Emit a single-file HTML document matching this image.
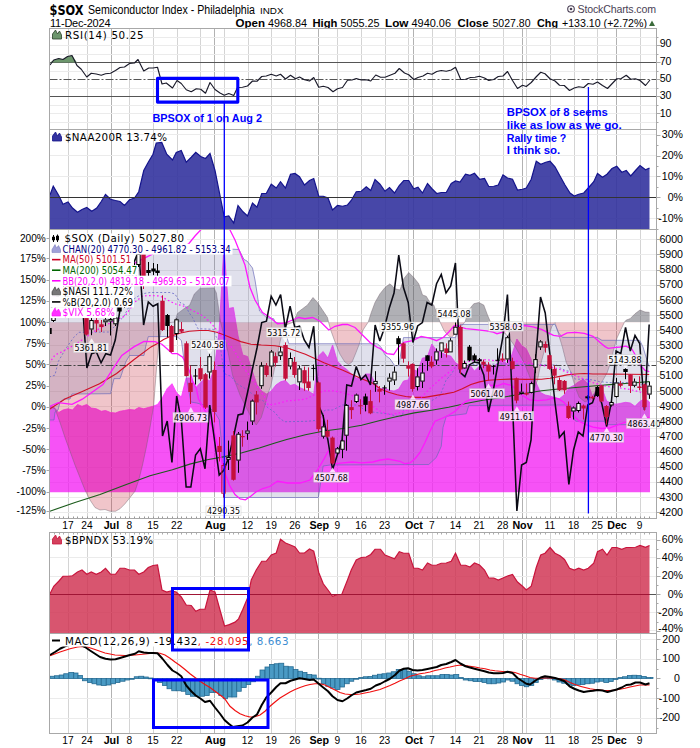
<!DOCTYPE html>
<html><head><meta charset="utf-8"><title>$SOX Semiconductor Index - Philadelphia</title>
<style>
html,body{margin:0;padding:0;background:#fff;}
svg{display:block}
text{font-family:"Liberation Sans",sans-serif}
.ar{font-family:"Liberation Sans",sans-serif}
.ax{font-family:"Liberation Sans",sans-serif}
.vd{font-family:"DejaVu Sans","Liberation Sans",sans-serif}
</style></head><body>
<svg width="700" height="748" viewBox="0 0 700 748" shape-rendering="auto">
<rect width="700" height="748" fill="#fff"/>
<text x="49.5" y="14.8" font-size="14.6" font-weight="bold" class="vd" textLength="34" lengthAdjust="spacingAndGlyphs">$SOX</text>
<text x="88" y="13.5" font-size="12" class="ar" textLength="167" lengthAdjust="spacingAndGlyphs">Semiconductor Index - Philadelphia</text>
<text x="260" y="13.5" font-size="9.5" class="ar" textLength="23.5" lengthAdjust="spacingAndGlyphs">INDX</text>
<text x="50" y="26.5" font-size="11" class="ar" textLength="60.5">11-Dec-2024</text>
<text x="577.5" y="13" font-size="10.6" class="ar" fill="#4a3f55" textLength="78.5" lengthAdjust="spacing">StockCharts.com</text>
<circle cx="571" cy="9" r="3.3" fill="none" stroke="#4a3f55" stroke-width="1.1"/><circle cx="571" cy="9" r="1.3" fill="#4a3f55"/>
<text x="235.5" y="26.5" font-size="11" class="ar" textLength="29.5" lengthAdjust="spacingAndGlyphs" font-weight="bold">Open</text>
<text x="268" y="26.5" font-size="11" class="ar" textLength="39" lengthAdjust="spacingAndGlyphs" >4968.84</text>
<text x="312.5" y="26.5" font-size="11" class="ar" textLength="25" lengthAdjust="spacingAndGlyphs" font-weight="bold">High</text>
<text x="340.5" y="26.5" font-size="11" class="ar" textLength="39" lengthAdjust="spacingAndGlyphs" >5055.25</text>
<text x="385" y="26.5" font-size="11" class="ar" textLength="23.5" lengthAdjust="spacingAndGlyphs" font-weight="bold">Low</text>
<text x="411.5" y="26.5" font-size="11" class="ar" textLength="39.5" lengthAdjust="spacingAndGlyphs" >4940.06</text>
<text x="457.5" y="26.5" font-size="11" class="ar" textLength="31" lengthAdjust="spacingAndGlyphs" font-weight="bold">Close</text>
<text x="492.5" y="26.5" font-size="11" class="ar" textLength="38" lengthAdjust="spacingAndGlyphs" >5027.80</text>
<text x="537" y="26.5" font-size="11" class="ar" textLength="21" lengthAdjust="spacingAndGlyphs" font-weight="bold">Chg</text>
<text x="562" y="26.5" font-size="11" class="ar" textLength="85" lengthAdjust="spacingAndGlyphs" >+133.10 (+2.72%)</text>
<path d="M649 26 L652 20.5 L655 26 Z" fill="#3b6b3b"/>
<line x1="68.5" y1="28.5" x2="68.5" y2="229.5" stroke="#d4d4d4"/>
<line x1="87.5" y1="28.5" x2="87.5" y2="229.5" stroke="#d4d4d4"/>
<line x1="129.5" y1="28.5" x2="129.5" y2="229.5" stroke="#d4d4d4"/>
<line x1="153.5" y1="28.5" x2="153.5" y2="229.5" stroke="#d4d4d4"/>
<line x1="177.5" y1="28.5" x2="177.5" y2="229.5" stroke="#d4d4d4"/>
<line x1="200.5" y1="28.5" x2="200.5" y2="229.5" stroke="#d4d4d4"/>
<line x1="224.5" y1="28.5" x2="224.5" y2="229.5" stroke="#d4d4d4"/>
<line x1="248.5" y1="28.5" x2="248.5" y2="229.5" stroke="#d4d4d4"/>
<line x1="271.5" y1="28.5" x2="271.5" y2="229.5" stroke="#d4d4d4"/>
<line x1="295.5" y1="28.5" x2="295.5" y2="229.5" stroke="#d4d4d4"/>
<line x1="337.5" y1="28.5" x2="337.5" y2="229.5" stroke="#d4d4d4"/>
<line x1="361.5" y1="28.5" x2="361.5" y2="229.5" stroke="#d4d4d4"/>
<line x1="385.5" y1="28.5" x2="385.5" y2="229.5" stroke="#d4d4d4"/>
<line x1="408.5" y1="28.5" x2="408.5" y2="229.5" stroke="#d4d4d4"/>
<line x1="432.5" y1="28.5" x2="432.5" y2="229.5" stroke="#d4d4d4"/>
<line x1="455.5" y1="28.5" x2="455.5" y2="229.5" stroke="#d4d4d4"/>
<line x1="479.5" y1="28.5" x2="479.5" y2="229.5" stroke="#d4d4d4"/>
<line x1="503.5" y1="28.5" x2="503.5" y2="229.5" stroke="#d4d4d4"/>
<line x1="526.5" y1="28.5" x2="526.5" y2="229.5" stroke="#d4d4d4"/>
<line x1="550.5" y1="28.5" x2="550.5" y2="229.5" stroke="#d4d4d4"/>
<line x1="574.5" y1="28.5" x2="574.5" y2="229.5" stroke="#d4d4d4"/>
<line x1="597.5" y1="28.5" x2="597.5" y2="229.5" stroke="#d4d4d4"/>
<line x1="640.5" y1="28.5" x2="640.5" y2="229.5" stroke="#d4d4d4"/>
<line x1="111.5" y1="28.5" x2="111.5" y2="229.5" stroke="#b2b2b2"/>
<line x1="214.5" y1="28.5" x2="214.5" y2="229.5" stroke="#b2b2b2"/>
<line x1="318.5" y1="28.5" x2="318.5" y2="229.5" stroke="#b2b2b2"/>
<line x1="413.5" y1="28.5" x2="413.5" y2="229.5" stroke="#b2b2b2"/>
<line x1="522.5" y1="28.5" x2="522.5" y2="229.5" stroke="#b2b2b2"/>
<line x1="616.5" y1="28.5" x2="616.5" y2="229.5" stroke="#b2b2b2"/>
<line x1="49.5" y1="37.5" x2="656.5" y2="37.5" stroke="#ebebeb"/>
<line x1="49.5" y1="45.5" x2="656.5" y2="45.5" stroke="#ebebeb"/>
<line x1="49.5" y1="54.5" x2="656.5" y2="54.5" stroke="#ebebeb"/>
<line x1="49.5" y1="71.5" x2="656.5" y2="71.5" stroke="#ebebeb"/>
<line x1="49.5" y1="88.5" x2="656.5" y2="88.5" stroke="#ebebeb"/>
<line x1="49.5" y1="105.5" x2="656.5" y2="105.5" stroke="#ebebeb"/>
<line x1="49.5" y1="113.5" x2="656.5" y2="113.5" stroke="#ebebeb"/>
<line x1="49.5" y1="122.5" x2="656.5" y2="122.5" stroke="#ebebeb"/>
<line x1="49.5" y1="134.5" x2="656.5" y2="134.5" stroke="#ebebeb"/>
<line x1="49.5" y1="155.5" x2="656.5" y2="155.5" stroke="#ebebeb"/>
<line x1="49.5" y1="176.5" x2="656.5" y2="176.5" stroke="#ebebeb"/>
<line x1="49.5" y1="218.5" x2="656.5" y2="218.5" stroke="#ebebeb"/>
<line x1="49.5" y1="129.5" x2="656.5" y2="129.5" stroke="#a8a8a8"/>
<line x1="49.5" y1="62.5" x2="656.5" y2="62.5" stroke="#555"/>
<line x1="49.5" y1="96.5" x2="656.5" y2="96.5" stroke="#555"/>
<line x1="49.5" y1="79.5" x2="656.5" y2="79.5" stroke="#555" stroke-dasharray="8,2,2,2"/>
<polygon points="50.00,62.50 50.00,62.50 53.75,60.00 58.75,58.50 63.00,59.50 67.50,56.50 72.00,55.50 77.00,62.50 77.00,62.50" fill="#6c966c"/>
<polyline points="50.00,65.00 53.75,60.00 58.75,58.50 63.00,59.50 67.50,56.50 72.00,55.50 77.00,65.50 81.25,69.25 86.75,77.00 91.25,73.25 96.25,74.00 101.25,75.25 105.50,73.75 110.50,73.25 115.50,70.50 120.00,67.50 124.50,67.00 129.50,63.50 134.50,63.00 138.00,59.50 143.75,71.00 148.75,68.00 153.00,68.00 157.50,67.25 162.00,84.00 166.25,83.00 172.50,88.00 177.00,80.50 181.25,83.50 186.25,89.75 191.25,91.75 196.25,88.75 200.75,89.25 205.50,93.25 210.00,82.50 215.00,89.50 220.00,93.00 224.25,95.25 228.75,93.50 233.75,95.50 237.50,87.50 242.50,87.25 247.50,86.00 252.50,81.00 257.00,81.25 261.75,76.50 266.25,76.00 271.25,74.25 276.25,76.00 280.50,74.25 285.50,79.00 290.50,75.25 295.50,78.75 299.50,77.00 304.50,79.75 309.50,81.00 313.75,77.50 318.75,87.25 323.25,86.25 328.00,87.50 333.00,91.75 337.50,88.75 342.50,87.50 347.50,80.25 352.00,80.00 356.25,78.50 361.25,80.00 366.25,79.75 370.75,81.00 375.75,75.00 380.50,77.25 385.00,77.25 390.00,75.25 395.00,73.25 399.25,68.50 404.50,73.00 408.75,74.75 413.75,79.50 418.00,77.50 423.00,76.00 427.50,73.25 432.00,74.25 436.75,71.50 441.25,70.50 446.25,71.25 451.25,70.00 455.50,67.25 460.75,79.50 465.50,79.25 470.50,77.50 475.00,77.25 479.50,76.25 484.50,78.00 488.75,80.50 493.75,79.50 498.25,76.50 503.00,76.00 507.50,71.50 512.50,80.50 517.50,88.50 522.50,85.25 526.25,86.50 531.25,82.50 536.25,76.75 540.75,72.25 545.00,73.75 550.00,78.75 555.00,81.00 559.50,85.25 564.25,85.50 569.50,90.50 574.25,88.00 578.75,86.75 583.75,87.50 588.25,83.50 593.00,84.25 597.50,82.00 602.50,85.50 607.50,88.50 612.00,83.75 616.75,78.75 621.25,78.50 626.25,75.25 630.75,79.25 635.50,78.75 640.00,80.50 645.50,85.50 650.00,80.00" fill="none" stroke="#1a1a2a" stroke-width="1.15" stroke-linejoin="round"/>
<polygon points="50.00,229.50 50.00,195.00 53.25,186.25 58.75,195.50 63.00,204.25 68.00,202.00 72.50,208.00 77.50,212.25 82.00,209.50 86.75,207.50 91.75,211.25 96.75,208.00 101.25,201.50 105.50,194.50 110.50,199.25 115.50,200.50 120.00,201.50 124.50,205.50 129.50,199.75 134.50,198.00 138.75,191.75 143.75,170.50 148.25,162.25 153.00,154.25 156.25,143.00 161.75,142.50 166.75,154.25 172.50,160.00 176.25,152.50 181.25,150.50 186.25,162.25 191.25,157.25 195.75,152.25 200.75,156.50 205.50,158.50 210.00,153.50 215.00,170.50 220.00,195.50 224.25,216.75 228.75,216.00 233.75,223.00 238.00,205.50 243.00,211.75 247.50,216.00 252.50,203.00 257.00,207.25 261.75,193.50 266.25,193.50 271.25,184.25 276.25,188.00 280.50,181.75 285.50,188.00 290.50,174.25 295.00,173.50 299.50,176.75 304.50,185.00 309.50,180.50 313.75,178.50 318.75,196.25 323.25,196.25 328.00,198.00 332.50,210.00 337.50,205.50 342.50,206.25 347.50,205.00 351.25,200.50 356.25,191.75 361.25,191.25 366.25,186.75 370.75,190.50 375.00,179.50 380.00,184.25 385.00,191.25 389.50,187.50 394.50,193.00 399.25,185.50 403.75,180.50 408.75,180.50 413.75,188.75 418.00,187.25 422.50,193.00 427.50,183.50 432.00,188.75 436.75,193.50 441.25,192.50 446.25,192.50 451.25,183.50 455.50,181.00 460.00,182.00 465.50,174.25 470.00,175.25 474.50,173.25 479.50,179.25 484.50,178.50 488.75,186.50 493.75,186.25 498.25,185.00 503.00,175.00 507.50,178.00 512.50,179.25 517.50,190.00 522.50,189.25 526.25,188.00 531.25,179.25 536.25,161.25 540.75,164.25 545.75,162.25 550.00,161.25 555.00,166.75 560.00,176.00 565.00,185.00 570.00,193.00 574.25,196.00 578.75,194.25 583.75,193.00 588.25,188.00 593.75,181.75 597.50,173.50 602.50,177.25 607.00,174.25 612.00,168.50 616.75,166.25 621.75,172.25 626.25,170.50 630.75,176.00 635.50,170.50 640.00,165.50 645.50,169.75 649.50,168.00 649.50,229.50" fill="#33339f" fill-opacity="0.9"/>
<polyline points="50.00,195.00 53.25,186.25 58.75,195.50 63.00,204.25 68.00,202.00 72.50,208.00 77.50,212.25 82.00,209.50 86.75,207.50 91.75,211.25 96.75,208.00 101.25,201.50 105.50,194.50 110.50,199.25 115.50,200.50 120.00,201.50 124.50,205.50 129.50,199.75 134.50,198.00 138.75,191.75 143.75,170.50 148.25,162.25 153.00,154.25 156.25,143.00 161.75,142.50 166.75,154.25 172.50,160.00 176.25,152.50 181.25,150.50 186.25,162.25 191.25,157.25 195.75,152.25 200.75,156.50 205.50,158.50 210.00,153.50 215.00,170.50 220.00,195.50 224.25,216.75 228.75,216.00 233.75,223.00 238.00,205.50 243.00,211.75 247.50,216.00 252.50,203.00 257.00,207.25 261.75,193.50 266.25,193.50 271.25,184.25 276.25,188.00 280.50,181.75 285.50,188.00 290.50,174.25 295.00,173.50 299.50,176.75 304.50,185.00 309.50,180.50 313.75,178.50 318.75,196.25 323.25,196.25 328.00,198.00 332.50,210.00 337.50,205.50 342.50,206.25 347.50,205.00 351.25,200.50 356.25,191.75 361.25,191.25 366.25,186.75 370.75,190.50 375.00,179.50 380.00,184.25 385.00,191.25 389.50,187.50 394.50,193.00 399.25,185.50 403.75,180.50 408.75,180.50 413.75,188.75 418.00,187.25 422.50,193.00 427.50,183.50 432.00,188.75 436.75,193.50 441.25,192.50 446.25,192.50 451.25,183.50 455.50,181.00 460.00,182.00 465.50,174.25 470.00,175.25 474.50,173.25 479.50,179.25 484.50,178.50 488.75,186.50 493.75,186.25 498.25,185.00 503.00,175.00 507.50,178.00 512.50,179.25 517.50,190.00 522.50,189.25 526.25,188.00 531.25,179.25 536.25,161.25 540.75,164.25 545.75,162.25 550.00,161.25 555.00,166.75 560.00,176.00 565.00,185.00 570.00,193.00 574.25,196.00 578.75,194.25 583.75,193.00 588.25,188.00 593.75,181.75 597.50,173.50 602.50,177.25 607.00,174.25 612.00,168.50 616.75,166.25 621.75,172.25 626.25,170.50 630.75,176.00 635.50,170.50 640.00,165.50 645.50,169.75 649.50,168.00" fill="none" stroke="#14148c" stroke-width="1.2"/>
<line x1="49.5" y1="197.5" x2="656.5" y2="197.5" stroke="#333"/>
<line x1="68.5" y1="229.5" x2="68.5" y2="518.5" stroke="#d4d4d4"/>
<line x1="87.5" y1="229.5" x2="87.5" y2="518.5" stroke="#d4d4d4"/>
<line x1="129.5" y1="229.5" x2="129.5" y2="518.5" stroke="#d4d4d4"/>
<line x1="153.5" y1="229.5" x2="153.5" y2="518.5" stroke="#d4d4d4"/>
<line x1="177.5" y1="229.5" x2="177.5" y2="518.5" stroke="#d4d4d4"/>
<line x1="200.5" y1="229.5" x2="200.5" y2="518.5" stroke="#d4d4d4"/>
<line x1="224.5" y1="229.5" x2="224.5" y2="518.5" stroke="#d4d4d4"/>
<line x1="248.5" y1="229.5" x2="248.5" y2="518.5" stroke="#d4d4d4"/>
<line x1="271.5" y1="229.5" x2="271.5" y2="518.5" stroke="#d4d4d4"/>
<line x1="295.5" y1="229.5" x2="295.5" y2="518.5" stroke="#d4d4d4"/>
<line x1="337.5" y1="229.5" x2="337.5" y2="518.5" stroke="#d4d4d4"/>
<line x1="361.5" y1="229.5" x2="361.5" y2="518.5" stroke="#d4d4d4"/>
<line x1="385.5" y1="229.5" x2="385.5" y2="518.5" stroke="#d4d4d4"/>
<line x1="408.5" y1="229.5" x2="408.5" y2="518.5" stroke="#d4d4d4"/>
<line x1="432.5" y1="229.5" x2="432.5" y2="518.5" stroke="#d4d4d4"/>
<line x1="455.5" y1="229.5" x2="455.5" y2="518.5" stroke="#d4d4d4"/>
<line x1="479.5" y1="229.5" x2="479.5" y2="518.5" stroke="#d4d4d4"/>
<line x1="503.5" y1="229.5" x2="503.5" y2="518.5" stroke="#d4d4d4"/>
<line x1="526.5" y1="229.5" x2="526.5" y2="518.5" stroke="#d4d4d4"/>
<line x1="550.5" y1="229.5" x2="550.5" y2="518.5" stroke="#d4d4d4"/>
<line x1="574.5" y1="229.5" x2="574.5" y2="518.5" stroke="#d4d4d4"/>
<line x1="597.5" y1="229.5" x2="597.5" y2="518.5" stroke="#d4d4d4"/>
<line x1="640.5" y1="229.5" x2="640.5" y2="518.5" stroke="#d4d4d4"/>
<line x1="111.5" y1="229.5" x2="111.5" y2="518.5" stroke="#b2b2b2"/>
<line x1="214.5" y1="229.5" x2="214.5" y2="518.5" stroke="#b2b2b2"/>
<line x1="318.5" y1="229.5" x2="318.5" y2="518.5" stroke="#b2b2b2"/>
<line x1="413.5" y1="229.5" x2="413.5" y2="518.5" stroke="#b2b2b2"/>
<line x1="522.5" y1="229.5" x2="522.5" y2="518.5" stroke="#b2b2b2"/>
<line x1="616.5" y1="229.5" x2="616.5" y2="518.5" stroke="#b2b2b2"/>
<line x1="49.5" y1="512.5" x2="656.5" y2="512.5" stroke="#ebebeb"/>
<line x1="49.5" y1="497.5" x2="656.5" y2="497.5" stroke="#ebebeb"/>
<line x1="49.5" y1="482.5" x2="656.5" y2="482.5" stroke="#ebebeb"/>
<line x1="49.5" y1="467.5" x2="656.5" y2="467.5" stroke="#ebebeb"/>
<line x1="49.5" y1="452.5" x2="656.5" y2="452.5" stroke="#ebebeb"/>
<line x1="49.5" y1="436.5" x2="656.5" y2="436.5" stroke="#ebebeb"/>
<line x1="49.5" y1="421.5" x2="656.5" y2="421.5" stroke="#ebebeb"/>
<line x1="49.5" y1="406.5" x2="656.5" y2="406.5" stroke="#ebebeb"/>
<line x1="49.5" y1="391.5" x2="656.5" y2="391.5" stroke="#ebebeb"/>
<line x1="49.5" y1="376.5" x2="656.5" y2="376.5" stroke="#ebebeb"/>
<line x1="49.5" y1="361.5" x2="656.5" y2="361.5" stroke="#ebebeb"/>
<line x1="49.5" y1="345.5" x2="656.5" y2="345.5" stroke="#ebebeb"/>
<line x1="49.5" y1="330.5" x2="656.5" y2="330.5" stroke="#ebebeb"/>
<line x1="49.5" y1="315.5" x2="656.5" y2="315.5" stroke="#ebebeb"/>
<line x1="49.5" y1="300.5" x2="656.5" y2="300.5" stroke="#ebebeb"/>
<line x1="49.5" y1="285.5" x2="656.5" y2="285.5" stroke="#ebebeb"/>
<line x1="49.5" y1="270.5" x2="656.5" y2="270.5" stroke="#ebebeb"/>
<line x1="49.5" y1="254.5" x2="656.5" y2="254.5" stroke="#ebebeb"/>
<line x1="49.5" y1="239.5" x2="656.5" y2="239.5" stroke="#ebebeb"/>
<defs><clipPath id="cm"><rect x="49.5" y="229.5" width="607.0" height="289.0"/></clipPath><clipPath id="cAbove"><rect x="49.5" y="229.5" width="607.0" height="92.69999999999999"/></clipPath><clipPath id="cBelow"><rect x="49.5" y="322.2" width="607.0" height="196.3"/></clipPath></defs>
<g clip-path="url(#cm)">
<polygon points="49.10,492.30 49.10,406.50 53.75,407.00 58.75,412.50 63.00,410.00 68.00,408.75 72.50,410.00 77.50,404.50 82.00,406.25 86.75,404.50 91.25,408.00 96.25,408.75 101.25,411.25 105.50,410.50 110.50,412.50 115.50,413.00 120.00,411.25 124.50,410.50 129.50,409.50 134.50,410.00 138.75,407.50 143.75,408.75 148.25,407.50 153.00,406.25 157.50,404.50 162.50,397.50 167.20,388.50 172.00,383.70 176.70,393.00 181.40,397.00 186.10,378.00 190.85,378.00 195.60,388.00 200.30,382.80 205.00,378.50 209.75,381.00 214.50,367.80 219.20,330.00 223.90,246.50 228.65,308.50 233.40,307.50 238.10,336.00 242.80,355.00 247.60,356.50 252.30,371.00 257.00,384.50 261.70,391.00 266.50,394.00 271.20,391.00 275.90,385.00 280.60,381.80 285.35,380.50 290.10,385.50 294.80,384.30 299.50,387.50 304.25,389.50 309.00,391.50 313.70,394.30 318.40,356.00 323.15,351.50 327.90,358.00 332.60,345.00 337.30,361.00 342.05,366.00 346.80,369.50 351.50,374.00 356.20,378.00 360.95,378.50 365.70,374.00 370.40,374.00 375.10,383.00 379.85,389.00 384.60,388.00 389.30,390.30 394.00,391.00 398.75,389.00 403.50,381.00 408.20,380.00 412.90,369.50 417.65,371.30 422.40,358.00 427.10,357.50 431.80,344.00 436.55,350.50 441.30,352.50 446.00,355.00 450.70,356.00 455.45,362.50 460.20,366.00 464.90,366.50 469.60,364.50 474.35,371.00 479.10,366.50 483.80,362.50 488.50,366.30 493.25,366.50 498.00,363.00 502.70,360.50 507.40,364.00 512.15,354.00 516.90,339.00 521.60,345.50 526.30,348.80 531.05,359.00 535.80,382.00 540.50,392.50 545.20,395.00 549.95,396.00 554.70,397.50 559.40,398.70 564.10,395.00 568.85,388.00 573.60,385.50 578.30,382.00 583.00,379.30 587.75,383.50 592.50,396.00 597.20,388.60 601.90,388.00 606.65,401.00 611.40,403.30 616.10,404.20 620.80,403.30 625.55,402.30 630.30,403.00 635.00,406.30 639.70,401.50 644.45,398.80 649.20,401.70 650.00,401.70 650.00,492.30" fill="#f200f2" fill-opacity="0.68"/>
<polyline points="49.10,406.50 53.75,407.00 58.75,412.50 63.00,410.00 68.00,408.75 72.50,410.00 77.50,404.50 82.00,406.25 86.75,404.50 91.25,408.00 96.25,408.75 101.25,411.25 105.50,410.50 110.50,412.50 115.50,413.00 120.00,411.25 124.50,410.50 129.50,409.50 134.50,410.00 138.75,407.50 143.75,408.75 148.25,407.50 153.00,406.25 157.50,404.50 162.50,397.50 167.20,388.50 172.00,383.70 176.70,393.00 181.40,397.00 186.10,378.00 190.85,378.00 195.60,388.00 200.30,382.80 205.00,378.50 209.75,381.00 214.50,367.80 219.20,330.00 223.90,246.50 228.65,308.50 233.40,307.50 238.10,336.00 242.80,355.00 247.60,356.50 252.30,371.00 257.00,384.50 261.70,391.00 266.50,394.00 271.20,391.00 275.90,385.00 280.60,381.80 285.35,380.50 290.10,385.50 294.80,384.30 299.50,387.50 304.25,389.50 309.00,391.50 313.70,394.30 318.40,356.00 323.15,351.50 327.90,358.00 332.60,345.00 337.30,361.00 342.05,366.00 346.80,369.50 351.50,374.00 356.20,378.00 360.95,378.50 365.70,374.00 370.40,374.00 375.10,383.00 379.85,389.00 384.60,388.00 389.30,390.30 394.00,391.00 398.75,389.00 403.50,381.00 408.20,380.00 412.90,369.50 417.65,371.30 422.40,358.00 427.10,357.50 431.80,344.00 436.55,350.50 441.30,352.50 446.00,355.00 450.70,356.00 455.45,362.50 460.20,366.00 464.90,366.50 469.60,364.50 474.35,371.00 479.10,366.50 483.80,362.50 488.50,366.30 493.25,366.50 498.00,363.00 502.70,360.50 507.40,364.00 512.15,354.00 516.90,339.00 521.60,345.50 526.30,348.80 531.05,359.00 535.80,382.00 540.50,392.50 545.20,395.00 549.95,396.00 554.70,397.50 559.40,398.70 564.10,395.00 568.85,388.00 573.60,385.50 578.30,382.00 583.00,379.30 587.75,383.50 592.50,396.00 597.20,388.60 601.90,388.00 606.65,401.00 611.40,403.30 616.10,404.20 620.80,403.30 625.55,402.30 630.30,403.00 635.00,406.30 639.70,401.50 644.45,398.80 649.20,401.70" fill="none" stroke="#ff30ff" stroke-width="1" stroke-opacity="0.8"/>
<polygon points="49.10,322.20 49.10,406.50 55.00,408.75 60.00,422.50 65.00,437.50 70.00,451.25 75.00,465.00 80.00,477.50 85.00,490.00 90.00,500.00 95.00,507.50 100.00,510.00 105.00,509.50 110.00,511.25 115.50,511.25 120.00,508.75 125.00,503.75 130.00,497.50 135.00,491.25 138.75,480.00 142.50,465.00 146.25,447.50 150.00,427.50 152.50,412.50 153.75,405.00 155.00,387.50 157.00,362.50 158.75,342.50 161.00,331.00 164.00,325.00 168.00,322.80 174.60,322.00 177.40,313.70 185.00,308.00 189.60,305.30 194.30,294.00 200.00,288.40 214.00,287.90 216.40,293.00 218.60,308.00 220.50,322.00 224.00,336.00 228.00,352.00 232.50,375.00 240.00,395.00 246.25,407.50 251.25,417.50 256.25,425.00 261.25,417.50 265.00,405.00 268.00,393.60 270.80,386.00 273.60,373.00 277.40,354.30 280.20,341.20 283.00,330.00 287.00,324.50 293.75,322.00 297.50,312.50 302.50,308.75 307.50,305.00 313.00,297.50 317.50,302.50 322.50,310.00 327.50,317.50 328.50,322.00 330.70,330.00 335.40,343.00 340.00,354.30 344.70,361.80 348.50,364.60 352.20,361.80 356.00,352.50 359.70,343.00 363.00,330.00 368.25,322.00 371.25,312.50 375.00,302.50 380.00,293.75 385.00,287.50 390.00,283.75 395.00,288.75 400.00,290.00 403.75,278.75 408.75,272.50 413.75,277.50 418.75,283.75 422.50,295.00 426.25,296.25 430.00,302.50 433.75,305.00 437.50,315.00 440.00,322.00 443.75,330.00 447.50,335.00 451.25,337.50 456.25,332.50 461.25,326.25 465.00,322.00 468.75,310.00 473.75,303.75 478.75,302.50 483.75,305.00 487.50,315.00 490.50,322.00 497.00,327.00 507.20,335.40 515.70,347.40 524.30,362.90 531.00,380.00 534.50,388.00 537.50,380.00 540.50,365.00 544.00,352.00 548.00,338.00 552.00,326.00 555.00,322.60 558.75,335.00 562.50,347.50 566.25,362.50 570.60,371.50 575.80,388.60 579.20,397.20 585.00,402.00 591.00,399.00 598.00,388.00 603.00,380.00 607.00,373.00 610.50,363.00 613.50,350.00 617.00,338.00 620.70,330.00 624.50,322.00 626.25,320.00 630.00,318.75 635.00,313.75 640.00,310.00 645.00,312.00 649.20,312.30 649.60,312.30 649.60,322.20" fill="#c8283c" fill-opacity="0.27" clip-path="url(#cBelow)"/>
<polygon points="49.10,322.20 49.10,406.50 55.00,408.75 60.00,422.50 65.00,437.50 70.00,451.25 75.00,465.00 80.00,477.50 85.00,490.00 90.00,500.00 95.00,507.50 100.00,510.00 105.00,509.50 110.00,511.25 115.50,511.25 120.00,508.75 125.00,503.75 130.00,497.50 135.00,491.25 138.75,480.00 142.50,465.00 146.25,447.50 150.00,427.50 152.50,412.50 153.75,405.00 155.00,387.50 157.00,362.50 158.75,342.50 161.00,331.00 164.00,325.00 168.00,322.80 174.60,322.00 177.40,313.70 185.00,308.00 189.60,305.30 194.30,294.00 200.00,288.40 214.00,287.90 216.40,293.00 218.60,308.00 220.50,322.00 224.00,336.00 228.00,352.00 232.50,375.00 240.00,395.00 246.25,407.50 251.25,417.50 256.25,425.00 261.25,417.50 265.00,405.00 268.00,393.60 270.80,386.00 273.60,373.00 277.40,354.30 280.20,341.20 283.00,330.00 287.00,324.50 293.75,322.00 297.50,312.50 302.50,308.75 307.50,305.00 313.00,297.50 317.50,302.50 322.50,310.00 327.50,317.50 328.50,322.00 330.70,330.00 335.40,343.00 340.00,354.30 344.70,361.80 348.50,364.60 352.20,361.80 356.00,352.50 359.70,343.00 363.00,330.00 368.25,322.00 371.25,312.50 375.00,302.50 380.00,293.75 385.00,287.50 390.00,283.75 395.00,288.75 400.00,290.00 403.75,278.75 408.75,272.50 413.75,277.50 418.75,283.75 422.50,295.00 426.25,296.25 430.00,302.50 433.75,305.00 437.50,315.00 440.00,322.00 443.75,330.00 447.50,335.00 451.25,337.50 456.25,332.50 461.25,326.25 465.00,322.00 468.75,310.00 473.75,303.75 478.75,302.50 483.75,305.00 487.50,315.00 490.50,322.00 497.00,327.00 507.20,335.40 515.70,347.40 524.30,362.90 531.00,380.00 534.50,388.00 537.50,380.00 540.50,365.00 544.00,352.00 548.00,338.00 552.00,326.00 555.00,322.60 558.75,335.00 562.50,347.50 566.25,362.50 570.60,371.50 575.80,388.60 579.20,397.20 585.00,402.00 591.00,399.00 598.00,388.00 603.00,380.00 607.00,373.00 610.50,363.00 613.50,350.00 617.00,338.00 620.70,330.00 624.50,322.00 626.25,320.00 630.00,318.75 635.00,313.75 640.00,310.00 645.00,312.00 649.20,312.30 649.60,312.30 649.60,322.20" fill="#50505a" fill-opacity="0.45" clip-path="url(#cAbove)"/>
<polyline points="49.10,406.50 55.00,408.75 60.00,422.50 65.00,437.50 70.00,451.25 75.00,465.00 80.00,477.50 85.00,490.00 90.00,500.00 95.00,507.50 100.00,510.00 105.00,509.50 110.00,511.25 115.50,511.25 120.00,508.75 125.00,503.75 130.00,497.50 135.00,491.25 138.75,480.00 142.50,465.00 146.25,447.50 150.00,427.50 152.50,412.50 153.75,405.00 155.00,387.50 157.00,362.50 158.75,342.50 161.00,331.00 164.00,325.00 168.00,322.80 174.60,322.00 177.40,313.70 185.00,308.00 189.60,305.30 194.30,294.00 200.00,288.40 214.00,287.90 216.40,293.00 218.60,308.00 220.50,322.00 224.00,336.00 228.00,352.00 232.50,375.00 240.00,395.00 246.25,407.50 251.25,417.50 256.25,425.00 261.25,417.50 265.00,405.00 268.00,393.60 270.80,386.00 273.60,373.00 277.40,354.30 280.20,341.20 283.00,330.00 287.00,324.50 293.75,322.00 297.50,312.50 302.50,308.75 307.50,305.00 313.00,297.50 317.50,302.50 322.50,310.00 327.50,317.50 328.50,322.00 330.70,330.00 335.40,343.00 340.00,354.30 344.70,361.80 348.50,364.60 352.20,361.80 356.00,352.50 359.70,343.00 363.00,330.00 368.25,322.00 371.25,312.50 375.00,302.50 380.00,293.75 385.00,287.50 390.00,283.75 395.00,288.75 400.00,290.00 403.75,278.75 408.75,272.50 413.75,277.50 418.75,283.75 422.50,295.00 426.25,296.25 430.00,302.50 433.75,305.00 437.50,315.00 440.00,322.00 443.75,330.00 447.50,335.00 451.25,337.50 456.25,332.50 461.25,326.25 465.00,322.00 468.75,310.00 473.75,303.75 478.75,302.50 483.75,305.00 487.50,315.00 490.50,322.00 497.00,327.00 507.20,335.40 515.70,347.40 524.30,362.90 531.00,380.00 534.50,388.00 537.50,380.00 540.50,365.00 544.00,352.00 548.00,338.00 552.00,326.00 555.00,322.60 558.75,335.00 562.50,347.50 566.25,362.50 570.60,371.50 575.80,388.60 579.20,397.20 585.00,402.00 591.00,399.00 598.00,388.00 603.00,380.00 607.00,373.00 610.50,363.00 613.50,350.00 617.00,338.00 620.70,330.00 624.50,322.00 626.25,320.00 630.00,318.75 635.00,313.75 640.00,310.00 645.00,312.00 649.20,312.30" fill="none" stroke="#70606c" stroke-width="0.8" stroke-opacity="0.55"/>
<polygon points="49.10,300.00 60.00,290.00 80.00,285.00 100.00,283.00 120.00,283.00 130.00,270.00 139.00,252.00 143.00,249.20 232.50,249.20 239.00,249.50 244.00,259.50 247.00,261.00 252.50,268.00 255.00,280.00 257.50,296.00 259.50,311.00 262.50,313.75 266.25,317.50 273.75,318.75 275.00,322.50 283.75,323.75 286.25,335.00 288.75,343.75 377.50,343.75 381.25,347.50 385.00,355.00 390.00,358.75 394.60,365.60 398.75,365.60 403.50,337.60 455.45,337.60 460.20,324.40 555.00,324.40 558.75,333.00 562.50,337.40 597.20,337.40 601.90,340.30 639.70,340.30 643.00,347.00 646.00,357.00 649.20,366.60 649.20,424.70 606.65,424.70 603.80,421.20 575.80,421.20 572.30,416.00 570.60,405.00 468.75,405.50 466.25,413.75 446.25,416.25 443.00,427.50 441.25,446.25 436.25,457.50 428.75,464.50 330.00,465.00 323.15,466.00 318.40,497.50 223.90,497.50 221.00,437.20 219.30,419.80 214.50,412.00 207.20,405.90 196.70,403.00 190.85,402.00 186.10,376.00 181.40,340.50 177.00,336.60 148.30,336.60 145.80,346.00 144.00,355.50 129.50,355.50 126.00,361.50 123.50,368.30 121.80,373.50 120.00,378.60 114.00,378.60 112.30,385.50 110.60,393.70 72.00,394.00 70.00,399.00 64.00,399.00 60.00,402.00 58.00,410.00 55.00,412.00 54.00,420.00 49.10,420.00" fill="#7878ac" fill-opacity="0.23"/>
<polyline points="49.10,300.00 60.00,290.00 80.00,285.00 100.00,283.00 120.00,283.00 130.00,270.00 139.00,252.00 143.00,249.20 232.50,249.20 239.00,249.50 244.00,259.50 247.00,261.00 252.50,268.00 255.00,280.00 257.50,296.00 259.50,311.00 262.50,313.75 266.25,317.50 273.75,318.75 275.00,322.50 283.75,323.75 286.25,335.00 288.75,343.75 377.50,343.75 381.25,347.50 385.00,355.00 390.00,358.75 394.60,365.60 398.75,365.60 403.50,337.60 455.45,337.60 460.20,324.40 555.00,324.40 558.75,333.00 562.50,337.40 597.20,337.40 601.90,340.30 639.70,340.30 643.00,347.00 646.00,357.00 649.20,366.60" fill="none" stroke="#6868b8" stroke-width="0.9" stroke-opacity="0.75"/>
<polyline points="49.10,420.00 54.00,420.00 55.00,412.00 58.00,410.00 60.00,402.00 64.00,399.00 70.00,399.00 72.00,394.00 110.60,393.70 112.30,385.50 114.00,378.60 120.00,378.60 121.80,373.50 123.50,368.30 126.00,361.50 129.50,355.50 144.00,355.50 145.80,346.00 148.30,336.60 177.00,336.60 181.40,340.50 186.10,376.00 190.85,402.00 196.70,403.00 207.20,405.90 214.50,412.00 219.30,419.80 221.00,437.20 223.90,497.50 318.40,497.50 323.15,466.00 330.00,465.00 428.75,464.50 436.25,457.50 441.25,446.25 443.00,427.50 446.25,416.25 466.25,413.75 468.75,405.50 570.60,405.00 572.30,416.00 575.80,421.20 603.80,421.20 606.65,424.70 649.20,424.70" fill="none" stroke="#6868b8" stroke-width="0.9" stroke-opacity="0.75"/>
<polyline points="49.10,377.00 54.90,375.20 58.30,361.50 65.20,349.50 73.70,337.40 78.90,332.30 109.70,332.00 116.60,323.70 123.50,316.90 130.00,305.00 135.00,298.00 142.50,293.75 150.00,292.50 170.00,292.50 175.00,294.00 180.00,302.50 185.00,305.00 189.00,312.50 192.50,317.50 197.90,328.70 213.30,329.30 215.90,336.50 219.50,340.00 223.90,373.00 227.00,375.00 230.50,376.00 237.30,384.00 244.20,388.00 251.00,393.00 255.00,396.00 257.00,400.00 262.50,400.00 267.50,407.50 275.00,412.50 280.00,418.75 285.00,421.75 307.50,421.25 318.75,420.00 322.50,415.00 325.00,410.00 332.50,410.00 342.50,405.00 357.50,405.00 365.00,410.00 375.00,412.50 387.50,413.75 397.20,416.20 402.30,416.20 404.00,407.60 414.30,405.90 422.90,404.20 431.50,400.80 440.00,395.60 443.50,387.00 446.00,380.20 452.00,373.30 455.50,366.50 460.60,364.70 500.00,364.00 556.90,365.00 560.30,368.00 565.50,370.60 570.60,371.50 572.30,376.60 575.80,379.20 586.00,379.20 593.00,380.00 599.80,381.70 610.00,382.60 639.70,382.60 644.00,388.00 649.20,395.60" fill="none" stroke="#6868c8" stroke-width="1" stroke-dasharray="2,2" stroke-opacity="0.8"/>
<line x1="49.5" y1="365.5" x2="656.5" y2="365.5" stroke="#444" stroke-dasharray="8,2,2,2"/>
<polyline points="49.10,511.50 75.00,502.50 100.00,494.50 125.00,485.00 150.00,475.80 172.40,469.80 189.80,464.10 207.20,459.80 224.60,456.60 242.00,452.80 259.30,448.00 275.00,443.00 286.70,439.50 305.40,434.80 324.00,431.00 342.90,428.50 361.60,425.30 380.00,420.50 397.20,416.50 414.30,412.90 431.50,410.20 448.60,407.20 465.80,403.50 482.90,400.20 500.00,397.70 524.30,393.50 541.50,390.80 558.60,389.00 575.80,387.50 593.00,386.00 610.00,384.60 628.80,383.20 649.20,381.60" fill="none" stroke="#1c5c1c" stroke-width="1.15"/>
<polyline points="49.10,409.50 50.60,408.60 65.00,399.00 82.30,391.50 99.50,383.80 116.60,373.50 133.80,359.70 151.00,346.90 157.50,343.50 163.60,339.50 172.20,335.60 180.70,333.00 189.30,331.30 199.60,330.50 208.20,330.50 216.70,332.20 223.60,334.70 232.20,338.20 240.80,341.60 251.00,344.20 261.30,345.00 275.00,345.70 286.70,347.80 305.40,354.30 324.00,362.80 342.90,370.20 361.60,378.70 372.80,383.30 380.00,388.80 388.60,392.20 397.20,394.80 405.70,396.50 414.30,397.30 424.60,397.30 434.90,395.60 445.20,393.90 453.80,392.20 462.30,388.80 470.90,384.50 479.50,381.90 488.00,380.20 500.00,379.50 512.50,379.00 525.00,379.30 541.50,379.20 550.00,378.30 558.60,376.60 567.20,374.90 575.80,374.00 584.30,373.50 593.00,374.00 601.50,374.00 614.00,374.10 628.80,374.30 649.20,374.50" fill="none" stroke="#d01028" stroke-width="1.15"/>
<polyline points="49.10,300.00 70.00,287.00 90.00,284.00 110.00,285.00 125.00,280.00 130.00,270.00 135.30,262.70 142.00,259.30 152.30,254.20 160.00,250.00 175.00,249.00 183.00,247.00 188.75,243.75 195.00,236.00 202.50,228.00 215.00,215.00 225.00,222.00 230.00,230.00 235.00,240.00 240.00,252.50 245.00,265.00 250.00,287.50 255.00,300.00 262.50,312.50 270.00,317.50 277.50,323.75 285.00,323.00 292.50,320.00 298.75,317.50 305.00,318.75 312.50,317.50 320.00,321.25 325.00,326.25 328.75,330.00 335.00,326.25 342.50,324.50 347.50,324.50 355.00,327.50 362.50,335.00 370.00,342.50 377.50,347.50 380.00,348.40 386.90,353.60 393.70,354.50 398.90,346.70 404.00,342.40 412.60,340.70 421.20,336.40 429.70,338.20 436.60,340.70 443.50,337.30 448.60,332.20 453.80,326.10 456.30,325.30 460.60,327.00 465.80,328.70 476.00,329.60 486.30,330.80 493.20,332.20 497.00,333.70 503.70,332.00 512.30,326.00 524.30,325.50 532.90,326.90 541.50,329.40 548.30,332.90 553.50,335.40 560.30,336.30 567.20,332.90 575.80,332.30 584.30,333.40 593.00,336.30 599.80,342.30 605.00,346.60 608.20,348.40 614.00,347.60 620.00,347.00 625.90,346.20 631.80,349.00 636.20,356.50 640.60,365.30 645.00,370.40 649.20,371.60" fill="none" stroke="#ff18ff" stroke-width="1.3"/>
<polyline points="49.10,407.00 50.60,406.00 58.30,402.60 72.00,404.30 82.30,399.20 102.90,384.60 113.20,368.30 121.80,355.50 133.80,346.90 144.00,341.40 155.00,341.60 161.90,344.20 168.70,350.20 172.20,353.60 177.30,353.60 182.40,357.00 185.90,363.00 189.30,370.80 192.70,381.00 196.20,388.00 198.50,399.00 207.20,414.60 214.10,432.00 219.30,451.00 224.60,472.00 229.80,485.90 235.00,494.60 240.20,499.00 245.40,499.80 250.70,496.30 255.90,492.00 262.80,488.50 269.80,486.50 277.50,481.25 287.50,483.00 300.00,483.00 310.00,480.00 317.50,470.00 324.00,459.00 327.90,451.70 330.70,449.80 332.60,461.00 335.40,463.80 342.90,462.90 352.20,462.00 361.60,462.90 372.80,462.00 380.30,460.00 388.00,459.00 400.00,461.25 405.00,463.75 410.00,463.00 415.00,458.75 420.00,452.50 425.00,442.50 430.00,431.25 435.00,421.25 441.70,418.50 448.60,415.30 455.50,411.00 460.60,405.50 465.80,401.50 470.90,399.50 476.00,399.00 485.00,398.75 490.00,385.20 497.00,386.00 503.70,383.50 510.60,385.20 515.70,388.60 522.60,395.50 529.50,399.80 538.00,400.60 546.60,399.80 553.50,398.00 558.60,398.90 563.80,402.30 568.90,408.30 574.00,416.00 579.20,421.20 586.00,424.60 593.00,427.20 601.50,428.50 610.00,427.80 620.00,424.00 628.00,421.50 636.00,419.50 643.00,418.20 649.20,417.30" fill="none" stroke="#ff18ff" stroke-width="1.3"/>
<polyline points="49.10,363.50 55.00,355.00 62.60,351.50 76.00,344.00 95.00,331.00 112.00,322.00 125.00,316.00 135.00,302.00 142.50,296.00 150.00,295.50 160.00,296.00 167.50,300.00 175.00,303.90 182.40,305.60 189.30,309.00 196.20,312.40 203.00,315.90 209.90,321.90 215.00,327.90 220.20,334.70 227.00,341.60 233.90,350.20 240.80,362.20 245.90,370.80 251.00,377.60 257.90,387.90 264.80,397.00 268.00,404.90 275.50,404.00 286.70,401.00 296.00,400.20 305.40,399.20 314.80,394.60 324.00,390.80 333.50,390.80 342.90,392.70 352.20,395.50 361.60,401.00 369.00,404.00 380.00,411.00 388.60,414.50 397.20,413.60 405.70,411.00 414.30,404.20 422.90,395.60 431.50,387.00 440.00,379.30 448.60,372.50 455.50,367.30 460.60,363.90 469.20,361.30 476.00,360.50 486.30,359.60 498.60,361.20 507.00,360.30 517.40,361.20 527.70,362.90 538.00,365.00 548.30,366.30 558.60,368.90 567.20,372.30 575.80,375.70 584.30,379.20 593.00,382.60 601.50,385.20 610.00,386.90 620.00,388.00 630.00,389.50 640.00,392.00 649.20,394.40" fill="none" stroke="#ff18ff" stroke-width="1.2" stroke-dasharray="1.6,2.4"/>
<polyline points="49.10,306.00 53.83,300.00 58.55,295.00 63.27,290.00 68.00,297.00 72.72,291.00 77.45,296.00 82.17,300.00 86.90,368.00 91.62,353.70 96.35,352.00 101.07,362.80 105.80,353.70 110.53,355.00 115.25,340.00 119.97,310.00 124.70,290.00 129.42,275.00 134.15,262.00 138.88,250.00 143.60,325.00 148.32,302.00 153.05,306.30 157.78,303.80 162.50,436.00 167.22,421.00 171.95,462.50 176.67,396.00 181.40,421.00 186.12,487.00 190.85,487.00 195.57,455.00 200.30,448.75 205.02,468.75 209.75,405.00 214.47,440.00 219.20,475.00 223.92,470.00 228.65,457.50 233.37,437.50 238.10,415.00 242.82,413.75 247.55,392.50 252.27,370.00 257.00,348.00 261.72,322.50 266.45,321.25 271.18,296.25 275.90,305.00 280.62,294.50 285.35,328.75 290.07,306.25 294.80,327.50 299.52,326.25 304.25,340.00 308.98,347.50 313.70,326.25 318.43,405.00 323.15,416.00 327.88,440.00 332.60,469.50 337.32,455.00 342.05,440.00 346.77,385.00 351.50,386.00 356.23,366.50 360.95,379.60 365.68,375.00 370.40,385.00 375.12,325.00 379.85,341.00 384.57,327.50 389.30,308.00 394.02,293.00 398.75,255.00 403.48,287.50 408.20,302.50 412.93,342.50 417.65,326.00 422.38,322.50 427.10,302.50 431.82,305.00 436.55,283.75 441.27,274.50 446.00,293.00 450.72,286.00 455.45,263.00 460.18,372.50 464.90,376.70 469.62,364.70 474.35,362.00 479.07,363.00 483.80,375.00 488.52,412.00 493.25,390.50 497.97,364.00 502.70,338.00 507.43,294.50 512.15,395.00 516.88,511.00 521.60,465.00 526.32,462.50 531.05,440.00 535.77,358.00 540.50,297.00 545.22,313.00 549.95,355.00 554.67,400.00 559.40,437.50 564.12,432.00 568.85,484.50 573.57,450.00 578.30,432.00 583.02,436.00 587.75,405.00 592.48,402.70 597.20,389.00 601.92,404.00 606.65,426.50 611.38,402.00 616.10,351.00 620.82,353.60 625.55,327.50 630.27,351.00 635.00,335.50 639.73,343.50 644.45,410.00 649.17,324.50" fill="none" stroke="#0a0a14" stroke-width="1.55" stroke-linejoin="miter" stroke-miterlimit="3"/>
<line x1="49.5" y1="326.0" x2="49.5" y2="341.0" stroke="#000" stroke-width="1"/>
<rect x="47.3" y="328.0" width="4.4" height="6.0" fill="#000"/>
<line x1="53.5" y1="300.0" x2="53.5" y2="302.0" stroke="#000" stroke-width="1"/>
<line x1="53.5" y1="321.0" x2="53.5" y2="322.0" stroke="#000" stroke-width="1"/>
<rect x="51.8" y="302.5" width="3.4" height="18.0" fill="#fff" stroke="#000" stroke-width="1"/>
<line x1="58.5" y1="289.0" x2="58.5" y2="292.0" stroke="#000" stroke-width="1"/>
<line x1="58.5" y1="296.0" x2="58.5" y2="298.0" stroke="#000" stroke-width="1"/>
<rect x="56.8" y="292.5" width="3.4" height="3.0" fill="#fff" stroke="#000" stroke-width="1"/>
<line x1="63.5" y1="284.0" x2="63.5" y2="287.0" stroke="#000" stroke-width="1"/>
<line x1="63.5" y1="291.0" x2="63.5" y2="294.0" stroke="#000" stroke-width="1"/>
<rect x="61.8" y="287.5" width="3.4" height="3.0" fill="#fff" stroke="#000" stroke-width="1"/>
<line x1="68.5" y1="281.0" x2="68.5" y2="291.0" stroke="#c4103c" stroke-width="1"/>
<rect x="66.3" y="284.0" width="4.4" height="5.0" fill="#c4103c"/>
<line x1="72.5" y1="280.0" x2="72.5" y2="283.0" stroke="#000" stroke-width="1"/>
<line x1="72.5" y1="287.0" x2="72.5" y2="289.0" stroke="#000" stroke-width="1"/>
<rect x="70.8" y="283.5" width="3.4" height="3.0" fill="#fff" stroke="#000" stroke-width="1"/>
<line x1="77.5" y1="282.0" x2="77.5" y2="294.0" stroke="#c4103c" stroke-width="1"/>
<rect x="75.3" y="284.0" width="4.4" height="8.0" fill="#c4103c"/>
<line x1="82.5" y1="289.0" x2="82.5" y2="306.0" stroke="#c4103c" stroke-width="1"/>
<rect x="80.3" y="292.0" width="4.4" height="11.0" fill="#c4103c"/>
<line x1="86.5" y1="309.0" x2="86.5" y2="335.5" stroke="#c4103c" stroke-width="1"/>
<rect x="84.3" y="311.0" width="4.4" height="23.6" fill="#c4103c"/>
<line x1="91.5" y1="317.5" x2="91.5" y2="320.0" stroke="#000" stroke-width="1"/>
<line x1="91.5" y1="329.5" x2="91.5" y2="335.2" stroke="#000" stroke-width="1"/>
<rect x="89.8" y="320.5" width="3.4" height="8.5" fill="#fff" stroke="#000" stroke-width="1"/>
<line x1="96.5" y1="317.5" x2="96.5" y2="332.0" stroke="#c4103c" stroke-width="1"/>
<rect x="94.3" y="320.0" width="4.4" height="3.5" fill="#c4103c"/>
<line x1="101.5" y1="320.0" x2="101.5" y2="332.0" stroke="#c4103c" stroke-width="1"/>
<rect x="99.3" y="324.3" width="4.4" height="2.7" fill="#c4103c"/>
<line x1="105.5" y1="317.0" x2="105.5" y2="319.5" stroke="#000" stroke-width="1"/>
<line x1="105.5" y1="322.3" x2="105.5" y2="326.0" stroke="#000" stroke-width="1"/>
<rect x="103.8" y="320.0" width="3.4" height="1.8" fill="#fff" stroke="#000" stroke-width="1"/>
<line x1="110.5" y1="317.5" x2="110.5" y2="319.0" stroke="#000" stroke-width="1"/>
<line x1="110.5" y1="321.5" x2="110.5" y2="335.5" stroke="#000" stroke-width="1"/>
<rect x="108.8" y="319.5" width="3.4" height="1.5" fill="#fff" stroke="#000" stroke-width="1"/>
<line x1="115.5" y1="315.0" x2="115.5" y2="317.5" stroke="#000" stroke-width="1"/>
<line x1="115.5" y1="324.3" x2="115.5" y2="326.0" stroke="#000" stroke-width="1"/>
<rect x="113.8" y="318.0" width="3.4" height="5.8" fill="#fff" stroke="#000" stroke-width="1"/>
<line x1="119.5" y1="306.0" x2="119.5" y2="313.0" stroke="#000" stroke-width="1"/>
<rect x="117.3" y="306.5" width="4.4" height="5.0" fill="#000"/>
<line x1="124.5" y1="293.0" x2="124.5" y2="296.0" stroke="#000" stroke-width="1"/>
<line x1="124.5" y1="307.0" x2="124.5" y2="308.0" stroke="#000" stroke-width="1"/>
<rect x="122.8" y="296.5" width="3.4" height="10.0" fill="#fff" stroke="#000" stroke-width="1"/>
<line x1="129.5" y1="278.0" x2="129.5" y2="280.0" stroke="#000" stroke-width="1"/>
<line x1="129.5" y1="294.0" x2="129.5" y2="296.0" stroke="#000" stroke-width="1"/>
<rect x="127.8" y="280.5" width="3.4" height="13.0" fill="#fff" stroke="#000" stroke-width="1"/>
<line x1="134.5" y1="263.0" x2="134.5" y2="266.0" stroke="#000" stroke-width="1"/>
<line x1="134.5" y1="279.0" x2="134.5" y2="281.0" stroke="#000" stroke-width="1"/>
<rect x="132.8" y="266.5" width="3.4" height="12.0" fill="#fff" stroke="#000" stroke-width="1"/>
<line x1="138.5" y1="251.0" x2="138.5" y2="254.0" stroke="#000" stroke-width="1"/>
<line x1="138.5" y1="265.0" x2="138.5" y2="267.0" stroke="#000" stroke-width="1"/>
<rect x="136.8" y="254.5" width="3.4" height="10.0" fill="#fff" stroke="#000" stroke-width="1"/>
<line x1="143.5" y1="252.0" x2="143.5" y2="289.0" stroke="#c4103c" stroke-width="1"/>
<rect x="141.3" y="254.0" width="4.4" height="31.0" fill="#c4103c"/>
<line x1="148.5" y1="262.0" x2="148.5" y2="276.0" stroke="#000" stroke-width="1"/>
<rect x="146.3" y="270.0" width="4.4" height="3.0" fill="#000"/>
<line x1="153.5" y1="263.0" x2="153.5" y2="275.0" stroke="#000" stroke-width="1"/>
<rect x="151.3" y="268.5" width="4.4" height="3.0" fill="#000"/>
<line x1="157.5" y1="264.0" x2="157.5" y2="276.0" stroke="#000" stroke-width="1"/>
<rect x="155.3" y="270.5" width="4.4" height="2.5" fill="#000"/>
<line x1="162.5" y1="295.3" x2="162.5" y2="331.0" stroke="#c4103c" stroke-width="1"/>
<rect x="160.3" y="300.8" width="4.4" height="29.2" fill="#c4103c"/>
<line x1="167.5" y1="314.0" x2="167.5" y2="337.3" stroke="#000" stroke-width="1"/>
<rect x="165.3" y="315.0" width="4.4" height="11.0" fill="#000"/>
<line x1="171.5" y1="325.0" x2="171.5" y2="352.5" stroke="#c4103c" stroke-width="1"/>
<rect x="169.3" y="326.0" width="4.4" height="26.0" fill="#c4103c"/>
<line x1="176.5" y1="318.5" x2="176.5" y2="319.3" stroke="#000" stroke-width="1"/>
<line x1="176.5" y1="334.0" x2="176.5" y2="340.0" stroke="#000" stroke-width="1"/>
<rect x="174.8" y="319.8" width="3.4" height="13.7" fill="#fff" stroke="#000" stroke-width="1"/>
<line x1="181.5" y1="322.0" x2="181.5" y2="333.0" stroke="#c4103c" stroke-width="1"/>
<rect x="179.3" y="329.0" width="4.4" height="2.7" fill="#c4103c"/>
<line x1="186.5" y1="341.3" x2="186.5" y2="376.5" stroke="#c4103c" stroke-width="1"/>
<rect x="184.3" y="343.3" width="4.4" height="32.7" fill="#c4103c"/>
<line x1="190.5" y1="365.6" x2="190.5" y2="404.0" stroke="#c4103c" stroke-width="1"/>
<rect x="188.3" y="382.8" width="4.4" height="9.2" fill="#c4103c"/>
<line x1="195.5" y1="369.0" x2="195.5" y2="384.5" stroke="#000" stroke-width="1"/>
<rect x="193.3" y="375.5" width="4.4" height="1.0" fill="#000"/>
<line x1="200.5" y1="357.0" x2="200.5" y2="381.0" stroke="#c4103c" stroke-width="1"/>
<rect x="198.3" y="368.2" width="4.4" height="11.1" fill="#c4103c"/>
<line x1="205.5" y1="373.0" x2="205.5" y2="409.0" stroke="#c4103c" stroke-width="1"/>
<rect x="203.3" y="374.2" width="4.4" height="33.4" fill="#c4103c"/>
<line x1="209.5" y1="353.4" x2="209.5" y2="356.2" stroke="#000" stroke-width="1"/>
<line x1="209.5" y1="372.5" x2="209.5" y2="378.5" stroke="#000" stroke-width="1"/>
<rect x="207.8" y="356.7" width="3.4" height="15.3" fill="#fff" stroke="#000" stroke-width="1"/>
<line x1="214.5" y1="361.3" x2="214.5" y2="422.4" stroke="#c4103c" stroke-width="1"/>
<rect x="212.3" y="370.0" width="4.4" height="42.0" fill="#c4103c"/>
<line x1="219.5" y1="437.0" x2="219.5" y2="461.5" stroke="#c4103c" stroke-width="1"/>
<rect x="217.3" y="445.9" width="4.4" height="6.1" fill="#c4103c"/>
<line x1="223.5" y1="463.0" x2="223.5" y2="465.0" stroke="#c4103c" stroke-width="1"/>
<line x1="223.5" y1="493.7" x2="223.5" y2="497.5" stroke="#c4103c" stroke-width="1"/>
<rect x="221.8" y="465.5" width="3.4" height="27.7" fill="none" stroke="#c4103c" stroke-width="1"/>
<line x1="228.5" y1="440.6" x2="228.5" y2="457.0" stroke="#000" stroke-width="1"/>
<line x1="228.5" y1="459.8" x2="228.5" y2="470.0" stroke="#000" stroke-width="1"/>
<rect x="226.8" y="457.5" width="3.4" height="1.8" fill="#fff" stroke="#000" stroke-width="1"/>
<line x1="233.5" y1="431.0" x2="233.5" y2="480.6" stroke="#c4103c" stroke-width="1"/>
<rect x="231.3" y="435.4" width="4.4" height="44.4" fill="#c4103c"/>
<line x1="238.5" y1="432.0" x2="238.5" y2="433.7" stroke="#000" stroke-width="1"/>
<line x1="238.5" y1="460.6" x2="238.5" y2="472.8" stroke="#000" stroke-width="1"/>
<rect x="236.8" y="434.2" width="3.4" height="25.9" fill="#fff" stroke="#000" stroke-width="1"/>
<line x1="242.5" y1="430.2" x2="242.5" y2="446.7" stroke="#c4103c" stroke-width="1"/>
<rect x="240.3" y="436.0" width="4.4" height="1.2" fill="#c4103c"/>
<line x1="247.5" y1="421.5" x2="247.5" y2="430.5" stroke="#000" stroke-width="1"/>
<line x1="247.5" y1="433.7" x2="247.5" y2="439.8" stroke="#000" stroke-width="1"/>
<rect x="245.8" y="431.0" width="3.4" height="2.2" fill="#fff" stroke="#000" stroke-width="1"/>
<line x1="252.5" y1="399.5" x2="252.5" y2="400.6" stroke="#000" stroke-width="1"/>
<line x1="252.5" y1="421.5" x2="252.5" y2="425.0" stroke="#000" stroke-width="1"/>
<rect x="250.8" y="401.1" width="3.4" height="19.9" fill="#fff" stroke="#000" stroke-width="1"/>
<line x1="256.5" y1="391.0" x2="256.5" y2="414.5" stroke="#c4103c" stroke-width="1"/>
<rect x="254.3" y="394.5" width="4.4" height="7.9" fill="#c4103c"/>
<line x1="261.5" y1="362.2" x2="261.5" y2="365.6" stroke="#000" stroke-width="1"/>
<line x1="261.5" y1="386.2" x2="261.5" y2="388.8" stroke="#000" stroke-width="1"/>
<rect x="259.8" y="366.1" width="3.4" height="19.6" fill="#fff" stroke="#000" stroke-width="1"/>
<line x1="266.5" y1="363.0" x2="266.5" y2="376.8" stroke="#c4103c" stroke-width="1"/>
<rect x="264.3" y="365.6" width="4.4" height="9.4" fill="#c4103c"/>
<line x1="271.5" y1="350.0" x2="271.5" y2="351.5" stroke="#000" stroke-width="1"/>
<line x1="271.5" y1="366.5" x2="271.5" y2="376.8" stroke="#000" stroke-width="1"/>
<rect x="269.8" y="352.0" width="3.4" height="14.0" fill="#fff" stroke="#000" stroke-width="1"/>
<line x1="275.5" y1="352.5" x2="275.5" y2="366.5" stroke="#c4103c" stroke-width="1"/>
<rect x="273.3" y="356.2" width="4.4" height="6.6" fill="#c4103c"/>
<line x1="280.5" y1="346.8" x2="280.5" y2="351.5" stroke="#000" stroke-width="1"/>
<line x1="280.5" y1="356.2" x2="280.5" y2="360.0" stroke="#000" stroke-width="1"/>
<rect x="278.8" y="352.0" width="3.4" height="3.7" fill="#fff" stroke="#000" stroke-width="1"/>
<line x1="285.5" y1="342.0" x2="285.5" y2="380.5" stroke="#c4103c" stroke-width="1"/>
<rect x="283.3" y="345.0" width="4.4" height="33.7" fill="#c4103c"/>
<line x1="290.5" y1="352.5" x2="290.5" y2="358.0" stroke="#000" stroke-width="1"/>
<line x1="290.5" y1="366.5" x2="290.5" y2="369.3" stroke="#000" stroke-width="1"/>
<rect x="288.8" y="358.5" width="3.4" height="7.5" fill="#fff" stroke="#000" stroke-width="1"/>
<line x1="294.5" y1="357.0" x2="294.5" y2="377.7" stroke="#c4103c" stroke-width="1"/>
<rect x="292.3" y="361.8" width="4.4" height="13.2" fill="#c4103c"/>
<line x1="299.5" y1="365.6" x2="299.5" y2="368.4" stroke="#000" stroke-width="1"/>
<line x1="299.5" y1="382.4" x2="299.5" y2="390.0" stroke="#000" stroke-width="1"/>
<rect x="297.8" y="368.9" width="3.4" height="13.0" fill="#fff" stroke="#000" stroke-width="1"/>
<line x1="304.5" y1="366.5" x2="304.5" y2="390.8" stroke="#c4103c" stroke-width="1"/>
<rect x="302.3" y="370.2" width="4.4" height="13.1" fill="#c4103c"/>
<line x1="308.5" y1="367.4" x2="308.5" y2="390.8" stroke="#c4103c" stroke-width="1"/>
<rect x="306.3" y="381.5" width="4.4" height="6.5" fill="#c4103c"/>
<line x1="313.5" y1="364.6" x2="313.5" y2="380.5" stroke="#000" stroke-width="1"/>
<rect x="311.3" y="367.9" width="4.4" height="1.0" fill="#000"/>
<line x1="318.5" y1="381.5" x2="318.5" y2="432.0" stroke="#c4103c" stroke-width="1"/>
<rect x="316.3" y="382.4" width="4.4" height="46.8" fill="#c4103c"/>
<line x1="323.5" y1="415.2" x2="323.5" y2="426.4" stroke="#000" stroke-width="1"/>
<line x1="323.5" y1="436.7" x2="323.5" y2="438.6" stroke="#000" stroke-width="1"/>
<rect x="321.8" y="426.9" width="3.4" height="9.3" fill="#fff" stroke="#000" stroke-width="1"/>
<line x1="327.5" y1="419.8" x2="327.5" y2="437.6" stroke="#c4103c" stroke-width="1"/>
<rect x="325.3" y="431.0" width="4.4" height="5.7" fill="#c4103c"/>
<line x1="332.5" y1="436.5" x2="332.5" y2="464.5" stroke="#c4103c" stroke-width="1"/>
<rect x="330.3" y="437.6" width="4.4" height="25.9" fill="#c4103c"/>
<line x1="337.5" y1="447.0" x2="337.5" y2="448.3" stroke="#000" stroke-width="1"/>
<line x1="337.5" y1="453.5" x2="337.5" y2="455.0" stroke="#000" stroke-width="1"/>
<rect x="335.8" y="448.8" width="3.4" height="4.2" fill="#fff" stroke="#000" stroke-width="1"/>
<line x1="342.5" y1="439.5" x2="342.5" y2="440.4" stroke="#000" stroke-width="1"/>
<line x1="342.5" y1="449.8" x2="342.5" y2="458.2" stroke="#000" stroke-width="1"/>
<rect x="340.8" y="440.9" width="3.4" height="8.4" fill="#fff" stroke="#000" stroke-width="1"/>
<line x1="346.5" y1="404.0" x2="346.5" y2="404.9" stroke="#000" stroke-width="1"/>
<line x1="346.5" y1="435.7" x2="346.5" y2="450.7" stroke="#000" stroke-width="1"/>
<rect x="344.8" y="405.4" width="3.4" height="29.8" fill="#fff" stroke="#000" stroke-width="1"/>
<line x1="351.5" y1="400.2" x2="351.5" y2="418.9" stroke="#c4103c" stroke-width="1"/>
<rect x="349.3" y="407.1" width="4.4" height="3.0" fill="#c4103c"/>
<line x1="356.5" y1="393.6" x2="356.5" y2="394.6" stroke="#000" stroke-width="1"/>
<line x1="356.5" y1="402.0" x2="356.5" y2="403.0" stroke="#000" stroke-width="1"/>
<rect x="354.8" y="395.1" width="3.4" height="6.4" fill="#fff" stroke="#000" stroke-width="1"/>
<line x1="360.5" y1="399.2" x2="360.5" y2="414.2" stroke="#c4103c" stroke-width="1"/>
<rect x="358.3" y="405.3" width="4.4" height="1.0" fill="#c4103c"/>
<line x1="365.5" y1="393.6" x2="365.5" y2="411.4" stroke="#000" stroke-width="1"/>
<rect x="363.3" y="396.4" width="4.4" height="8.5" fill="#000"/>
<line x1="370.5" y1="389.9" x2="370.5" y2="414.2" stroke="#c4103c" stroke-width="1"/>
<rect x="368.3" y="401.1" width="4.4" height="12.2" fill="#c4103c"/>
<line x1="375.5" y1="371.2" x2="375.5" y2="380.9" stroke="#000" stroke-width="1"/>
<line x1="375.5" y1="384.3" x2="375.5" y2="391.8" stroke="#000" stroke-width="1"/>
<rect x="373.8" y="381.4" width="3.4" height="2.4" fill="#fff" stroke="#000" stroke-width="1"/>
<line x1="379.5" y1="386.1" x2="379.5" y2="402.4" stroke="#c4103c" stroke-width="1"/>
<rect x="377.3" y="389.1" width="4.4" height="2.6" fill="#c4103c"/>
<line x1="384.5" y1="385.3" x2="384.5" y2="394.8" stroke="#000" stroke-width="1"/>
<rect x="382.3" y="387.4" width="4.4" height="1.0" fill="#000"/>
<line x1="389.5" y1="373.3" x2="389.5" y2="377.6" stroke="#000" stroke-width="1"/>
<line x1="389.5" y1="381.6" x2="389.5" y2="390.5" stroke="#000" stroke-width="1"/>
<rect x="387.8" y="378.1" width="3.4" height="3.0" fill="#fff" stroke="#000" stroke-width="1"/>
<line x1="394.5" y1="366.5" x2="394.5" y2="371.6" stroke="#000" stroke-width="1"/>
<line x1="394.5" y1="380.5" x2="394.5" y2="385.0" stroke="#000" stroke-width="1"/>
<rect x="392.8" y="372.1" width="3.4" height="7.9" fill="#fff" stroke="#000" stroke-width="1"/>
<line x1="398.5" y1="335.9" x2="398.5" y2="364.7" stroke="#000" stroke-width="1"/>
<rect x="396.3" y="338.2" width="4.4" height="6.0" fill="#000"/>
<line x1="403.5" y1="342.5" x2="403.5" y2="362.7" stroke="#c4103c" stroke-width="1"/>
<rect x="401.3" y="343.3" width="4.4" height="15.4" fill="#c4103c"/>
<line x1="408.5" y1="361.3" x2="408.5" y2="376.7" stroke="#c4103c" stroke-width="1"/>
<rect x="406.3" y="365.3" width="4.4" height="3.4" fill="#c4103c"/>
<line x1="412.5" y1="363.4" x2="412.5" y2="391.7" stroke="#c4103c" stroke-width="1"/>
<rect x="410.3" y="363.9" width="4.4" height="25.1" fill="#c4103c"/>
<line x1="417.5" y1="368.2" x2="417.5" y2="376.4" stroke="#000" stroke-width="1"/>
<line x1="417.5" y1="387.0" x2="417.5" y2="390.5" stroke="#000" stroke-width="1"/>
<rect x="415.8" y="376.9" width="3.4" height="9.6" fill="#fff" stroke="#000" stroke-width="1"/>
<line x1="422.5" y1="363.0" x2="422.5" y2="372.5" stroke="#000" stroke-width="1"/>
<line x1="422.5" y1="381.6" x2="422.5" y2="388.0" stroke="#000" stroke-width="1"/>
<rect x="420.8" y="373.0" width="3.4" height="8.1" fill="#fff" stroke="#000" stroke-width="1"/>
<line x1="427.5" y1="355.3" x2="427.5" y2="370.7" stroke="#000" stroke-width="1"/>
<rect x="425.3" y="355.3" width="4.4" height="5.7" fill="#000"/>
<line x1="431.5" y1="356.2" x2="431.5" y2="368.2" stroke="#c4103c" stroke-width="1"/>
<rect x="429.3" y="361.7" width="4.4" height="4.8" fill="#c4103c"/>
<line x1="436.5" y1="348.4" x2="436.5" y2="351.4" stroke="#000" stroke-width="1"/>
<line x1="436.5" y1="360.5" x2="436.5" y2="364.7" stroke="#000" stroke-width="1"/>
<rect x="434.8" y="351.9" width="3.4" height="8.1" fill="#fff" stroke="#000" stroke-width="1"/>
<line x1="441.5" y1="342.4" x2="441.5" y2="342.4" stroke="#000" stroke-width="1"/>
<line x1="441.5" y1="351.4" x2="441.5" y2="357.9" stroke="#000" stroke-width="1"/>
<rect x="439.8" y="342.9" width="3.4" height="8.0" fill="#fff" stroke="#000" stroke-width="1"/>
<line x1="446.5" y1="343.3" x2="446.5" y2="357.5" stroke="#c4103c" stroke-width="1"/>
<rect x="444.3" y="348.4" width="4.4" height="4.6" fill="#c4103c"/>
<line x1="450.5" y1="338.2" x2="450.5" y2="340.4" stroke="#000" stroke-width="1"/>
<line x1="450.5" y1="352.4" x2="450.5" y2="352.4" stroke="#000" stroke-width="1"/>
<rect x="448.8" y="340.9" width="3.4" height="11.0" fill="#fff" stroke="#000" stroke-width="1"/>
<line x1="455.5" y1="322.3" x2="455.5" y2="326.7" stroke="#000" stroke-width="1"/>
<line x1="455.5" y1="334.7" x2="455.5" y2="334.7" stroke="#000" stroke-width="1"/>
<rect x="453.8" y="327.2" width="3.4" height="7.0" fill="#fff" stroke="#000" stroke-width="1"/>
<line x1="460.5" y1="325.3" x2="460.5" y2="374.2" stroke="#c4103c" stroke-width="1"/>
<rect x="458.3" y="327.0" width="4.4" height="42.5" fill="#c4103c"/>
<line x1="464.5" y1="360.5" x2="464.5" y2="363.0" stroke="#000" stroke-width="1"/>
<line x1="464.5" y1="368.5" x2="464.5" y2="369.0" stroke="#000" stroke-width="1"/>
<rect x="462.8" y="363.5" width="3.4" height="4.5" fill="#fff" stroke="#000" stroke-width="1"/>
<line x1="469.5" y1="345.0" x2="469.5" y2="361.3" stroke="#000" stroke-width="1"/>
<rect x="467.3" y="346.7" width="4.4" height="13.8" fill="#000"/>
<line x1="474.5" y1="353.6" x2="474.5" y2="362.2" stroke="#000" stroke-width="1"/>
<rect x="472.3" y="355.3" width="4.4" height="5.2" fill="#000"/>
<line x1="479.5" y1="358.0" x2="479.5" y2="369.9" stroke="#000" stroke-width="1"/>
<rect x="477.3" y="359.3" width="4.4" height="2.0" fill="#000"/>
<line x1="483.5" y1="359.6" x2="483.5" y2="368.2" stroke="#c4103c" stroke-width="1"/>
<rect x="481.3" y="361.7" width="4.4" height="3.0" fill="#c4103c"/>
<line x1="488.5" y1="362.2" x2="488.5" y2="380.5" stroke="#c4103c" stroke-width="1"/>
<rect x="486.3" y="364.7" width="4.4" height="6.9" fill="#c4103c"/>
<line x1="493.5" y1="365.0" x2="493.5" y2="374.5" stroke="#000" stroke-width="1"/>
<rect x="491.3" y="365.8" width="4.4" height="1.0" fill="#000"/>
<line x1="497.5" y1="348.3" x2="497.5" y2="361.2" stroke="#000" stroke-width="1"/>
<rect x="495.3" y="359.8" width="4.4" height="1.0" fill="#000"/>
<line x1="502.5" y1="353.4" x2="502.5" y2="362.0" stroke="#c4103c" stroke-width="1"/>
<rect x="500.3" y="358.5" width="4.4" height="2.0" fill="#c4103c"/>
<line x1="507.5" y1="335.5" x2="507.5" y2="337.2" stroke="#000" stroke-width="1"/>
<line x1="507.5" y1="359.5" x2="507.5" y2="362.9" stroke="#000" stroke-width="1"/>
<rect x="505.8" y="337.7" width="3.4" height="21.3" fill="#fff" stroke="#000" stroke-width="1"/>
<line x1="512.5" y1="357.7" x2="512.5" y2="369.5" stroke="#c4103c" stroke-width="1"/>
<rect x="510.3" y="361.2" width="4.4" height="7.7" fill="#c4103c"/>
<line x1="516.5" y1="377.5" x2="516.5" y2="403.3" stroke="#c4103c" stroke-width="1"/>
<rect x="514.3" y="378.3" width="4.4" height="22.3" fill="#c4103c"/>
<line x1="521.5" y1="383.5" x2="521.5" y2="391.7" stroke="#000" stroke-width="1"/>
<line x1="521.5" y1="394.0" x2="521.5" y2="394.5" stroke="#000" stroke-width="1"/>
<rect x="519.8" y="392.2" width="3.4" height="1.3" fill="#fff" stroke="#000" stroke-width="1"/>
<line x1="526.5" y1="383.5" x2="526.5" y2="395.5" stroke="#c4103c" stroke-width="1"/>
<rect x="524.3" y="392.9" width="4.4" height="1.7" fill="#c4103c"/>
<line x1="531.5" y1="381.7" x2="531.5" y2="383.1" stroke="#000" stroke-width="1"/>
<line x1="531.5" y1="392.9" x2="531.5" y2="393.3" stroke="#000" stroke-width="1"/>
<rect x="529.8" y="383.6" width="3.4" height="8.8" fill="#fff" stroke="#000" stroke-width="1"/>
<line x1="535.5" y1="354.3" x2="535.5" y2="359.1" stroke="#000" stroke-width="1"/>
<line x1="535.5" y1="367.7" x2="535.5" y2="373.2" stroke="#000" stroke-width="1"/>
<rect x="533.8" y="359.6" width="3.4" height="7.6" fill="#fff" stroke="#000" stroke-width="1"/>
<line x1="540.5" y1="340.2" x2="540.5" y2="341.4" stroke="#000" stroke-width="1"/>
<line x1="540.5" y1="347.4" x2="540.5" y2="350.0" stroke="#000" stroke-width="1"/>
<rect x="538.8" y="341.9" width="3.4" height="5.0" fill="#fff" stroke="#000" stroke-width="1"/>
<line x1="545.5" y1="341.4" x2="545.5" y2="352.6" stroke="#c4103c" stroke-width="1"/>
<rect x="543.3" y="344.0" width="4.4" height="3.8" fill="#c4103c"/>
<line x1="549.5" y1="354.3" x2="549.5" y2="369.7" stroke="#c4103c" stroke-width="1"/>
<rect x="547.3" y="355.2" width="4.4" height="13.7" fill="#c4103c"/>
<line x1="554.5" y1="365.5" x2="554.5" y2="384.3" stroke="#c4103c" stroke-width="1"/>
<rect x="552.3" y="368.9" width="4.4" height="6.8" fill="#c4103c"/>
<line x1="559.5" y1="377.5" x2="559.5" y2="391.0" stroke="#c4103c" stroke-width="1"/>
<rect x="557.3" y="380.0" width="4.4" height="10.3" fill="#c4103c"/>
<line x1="564.5" y1="380.0" x2="564.5" y2="393.8" stroke="#c4103c" stroke-width="1"/>
<rect x="562.3" y="380.9" width="4.4" height="9.4" fill="#c4103c"/>
<line x1="568.5" y1="401.5" x2="568.5" y2="419.0" stroke="#c4103c" stroke-width="1"/>
<rect x="566.3" y="405.8" width="4.4" height="12.2" fill="#c4103c"/>
<line x1="573.5" y1="406.5" x2="573.5" y2="407.5" stroke="#000" stroke-width="1"/>
<line x1="573.5" y1="411.5" x2="573.5" y2="419.5" stroke="#000" stroke-width="1"/>
<rect x="571.8" y="408.0" width="3.4" height="3.0" fill="#fff" stroke="#000" stroke-width="1"/>
<line x1="578.5" y1="401.5" x2="578.5" y2="403.0" stroke="#000" stroke-width="1"/>
<line x1="578.5" y1="411.0" x2="578.5" y2="412.5" stroke="#000" stroke-width="1"/>
<rect x="576.8" y="403.5" width="3.4" height="7.0" fill="#fff" stroke="#000" stroke-width="1"/>
<line x1="583.5" y1="404.5" x2="583.5" y2="419.5" stroke="#c4103c" stroke-width="1"/>
<rect x="581.3" y="405.5" width="4.4" height="3.0" fill="#c4103c"/>
<line x1="587.5" y1="395.5" x2="587.5" y2="396.3" stroke="#000" stroke-width="1"/>
<line x1="587.5" y1="398.3" x2="587.5" y2="399.5" stroke="#000" stroke-width="1"/>
<rect x="585.8" y="396.8" width="3.4" height="1.0" fill="#fff" stroke="#000" stroke-width="1"/>
<line x1="592.5" y1="396.0" x2="592.5" y2="399.5" stroke="#c4103c" stroke-width="1"/>
<rect x="590.3" y="396.8" width="4.4" height="1.4" fill="#c4103c"/>
<line x1="597.5" y1="386.0" x2="597.5" y2="397.0" stroke="#000" stroke-width="1"/>
<rect x="595.3" y="387.0" width="4.4" height="9.0" fill="#000"/>
<line x1="601.5" y1="385.0" x2="601.5" y2="402.0" stroke="#c4103c" stroke-width="1"/>
<rect x="599.3" y="385.5" width="4.4" height="16.0" fill="#c4103c"/>
<line x1="606.5" y1="405.0" x2="606.5" y2="424.7" stroke="#c4103c" stroke-width="1"/>
<rect x="604.3" y="406.0" width="4.4" height="11.0" fill="#c4103c"/>
<line x1="611.5" y1="401.0" x2="611.5" y2="402.0" stroke="#000" stroke-width="1"/>
<line x1="611.5" y1="405.5" x2="611.5" y2="406.5" stroke="#000" stroke-width="1"/>
<rect x="609.8" y="402.5" width="3.4" height="2.5" fill="#fff" stroke="#000" stroke-width="1"/>
<line x1="616.5" y1="378.0" x2="616.5" y2="382.5" stroke="#000" stroke-width="1"/>
<line x1="616.5" y1="397.0" x2="616.5" y2="397.5" stroke="#000" stroke-width="1"/>
<rect x="614.8" y="383.0" width="3.4" height="13.5" fill="#fff" stroke="#000" stroke-width="1"/>
<line x1="620.5" y1="380.8" x2="620.5" y2="387.3" stroke="#c4103c" stroke-width="1"/>
<rect x="618.3" y="383.5" width="4.4" height="2.3" fill="#c4103c"/>
<line x1="625.5" y1="368.0" x2="625.5" y2="379.2" stroke="#000" stroke-width="1"/>
<rect x="623.3" y="369.0" width="4.4" height="3.0" fill="#000"/>
<line x1="630.5" y1="374.0" x2="630.5" y2="393.0" stroke="#c4103c" stroke-width="1"/>
<rect x="628.3" y="374.5" width="4.4" height="11.5" fill="#c4103c"/>
<line x1="634.5" y1="378.5" x2="634.5" y2="381.5" stroke="#000" stroke-width="1"/>
<line x1="634.5" y1="385.8" x2="634.5" y2="387.3" stroke="#000" stroke-width="1"/>
<rect x="632.8" y="382.0" width="3.4" height="3.3" fill="#fff" stroke="#000" stroke-width="1"/>
<line x1="639.5" y1="376.3" x2="639.5" y2="390.3" stroke="#c4103c" stroke-width="1"/>
<rect x="637.3" y="386.5" width="4.4" height="1.5" fill="#c4103c"/>
<line x1="644.5" y1="383.5" x2="644.5" y2="410.6" stroke="#c4103c" stroke-width="1"/>
<rect x="642.3" y="384.4" width="4.4" height="22.8" fill="#c4103c"/>
<line x1="649.5" y1="381.5" x2="649.5" y2="385.6" stroke="#000" stroke-width="1"/>
<line x1="649.5" y1="394.6" x2="649.5" y2="398.9" stroke="#000" stroke-width="1"/>
<rect x="647.8" y="386.1" width="3.4" height="8.0" fill="#fff" stroke="#000" stroke-width="1"/>
</g>
<path d="M88.6 343 L91.6 338.3 L94.6 343 Z" fill="#fff" fill-opacity="0.8"/>
<rect x="73.5" y="343" width="35" height="9.6" fill="#fff" fill-opacity="0.8" stroke="#ccc" stroke-width="0.5"/>
<text x="74.5" y="351.4" font-size="9.5" class="vd" textLength="33" lengthAdjust="spacingAndGlyphs">5361.81</text>
<path d="M206.75 349.6 L209.75 354.5 L212.75 349.6 Z" fill="#fff" fill-opacity="0.8"/>
<rect x="190.2" y="340" width="35" height="9.6" fill="#fff" fill-opacity="0.8" stroke="#ccc" stroke-width="0.5"/>
<text x="191.2" y="348.4" font-size="9.5" class="vd" textLength="33" lengthAdjust="spacingAndGlyphs">5240.58</text>
<path d="M187.85 412.6 L190.85 407 L193.85 412.6 Z" fill="#fff" fill-opacity="0.8"/>
<rect x="173" y="412.6" width="35" height="9.6" fill="#fff" fill-opacity="0.8" stroke="#ccc" stroke-width="0.5"/>
<text x="174" y="421.0" font-size="9.5" class="vd" textLength="33" lengthAdjust="spacingAndGlyphs">4906.73</text>
<path d="M221.3 506 L224.3 503 L227.3 506 Z" fill="#fff" fill-opacity="0.8"/>
<rect x="206" y="506" width="35" height="9.6" fill="#fff" fill-opacity="0.8" stroke="#ccc" stroke-width="0.5"/>
<text x="207" y="514.4" font-size="9.5" class="vd" textLength="33" lengthAdjust="spacingAndGlyphs">4290.35</text>
<path d="M282.35 337.1 L285.35 343 L288.35 337.1 Z" fill="#fff" fill-opacity="0.8"/>
<rect x="266.3" y="327.5" width="35" height="9.6" fill="#fff" fill-opacity="0.8" stroke="#ccc" stroke-width="0.5"/>
<text x="267.3" y="335.9" font-size="9.5" class="vd" textLength="33" lengthAdjust="spacingAndGlyphs">5315.72</text>
<path d="M329.6 472.5 L332.6 467.5 L335.6 472.5 Z" fill="#fff" fill-opacity="0.8"/>
<rect x="313.8" y="472.5" width="35" height="9.6" fill="#fff" fill-opacity="0.8" stroke="#ccc" stroke-width="0.5"/>
<text x="314.8" y="480.9" font-size="9.5" class="vd" textLength="33" lengthAdjust="spacingAndGlyphs">4507.68</text>
<path d="M395.75 331.6 L398.75 336.5 L401.75 331.6 Z" fill="#fff" fill-opacity="0.8"/>
<rect x="380" y="322" width="35" height="9.6" fill="#fff" fill-opacity="0.8" stroke="#ccc" stroke-width="0.5"/>
<text x="381" y="330.4" font-size="9.5" class="vd" textLength="33" lengthAdjust="spacingAndGlyphs">5355.96</text>
<path d="M409.9 399.8 L412.9 394.5 L415.9 399.8 Z" fill="#fff" fill-opacity="0.8"/>
<rect x="395" y="399.8" width="35" height="9.6" fill="#fff" fill-opacity="0.8" stroke="#ccc" stroke-width="0.5"/>
<text x="396" y="408.2" font-size="9.5" class="vd" textLength="33" lengthAdjust="spacingAndGlyphs">4987.66</text>
<path d="M452.45 317.90000000000003 L455.45 322.8 L458.45 317.90000000000003 Z" fill="#fff" fill-opacity="0.8"/>
<rect x="436.5" y="308.3" width="35" height="9.6" fill="#fff" fill-opacity="0.8" stroke="#ccc" stroke-width="0.5"/>
<text x="437.5" y="316.7" font-size="9.5" class="vd" textLength="33" lengthAdjust="spacingAndGlyphs">5445.08</text>
<path d="M485.5 388.8 L488.5 383.5 L491.5 388.8 Z" fill="#fff" fill-opacity="0.8"/>
<rect x="469.5" y="388.8" width="35" height="9.6" fill="#fff" fill-opacity="0.8" stroke="#ccc" stroke-width="0.5"/>
<text x="470.5" y="397.2" font-size="9.5" class="vd" textLength="33" lengthAdjust="spacingAndGlyphs">5061.40</text>
<path d="M504.4 331.1 L507.4 336 L510.4 331.1 Z" fill="#fff" fill-opacity="0.8"/>
<rect x="488.5" y="321.5" width="35" height="9.6" fill="#fff" fill-opacity="0.8" stroke="#ccc" stroke-width="0.5"/>
<text x="489.5" y="329.9" font-size="9.5" class="vd" textLength="33" lengthAdjust="spacingAndGlyphs">5358.03</text>
<path d="M513.9 411.4 L516.9 406.2 L519.9 411.4 Z" fill="#fff" fill-opacity="0.8"/>
<rect x="498.8" y="411.4" width="35" height="9.6" fill="#fff" fill-opacity="0.8" stroke="#ccc" stroke-width="0.5"/>
<text x="499.8" y="419.79999999999995" font-size="9.5" class="vd" textLength="33" lengthAdjust="spacingAndGlyphs">4911.61</text>
<path d="M603.65 432.6 L606.65 427.5 L609.65 432.6 Z" fill="#fff" fill-opacity="0.8"/>
<rect x="588.8" y="432.6" width="35" height="9.6" fill="#fff" fill-opacity="0.8" stroke="#ccc" stroke-width="0.5"/>
<text x="589.8" y="441.0" font-size="9.5" class="vd" textLength="33" lengthAdjust="spacingAndGlyphs">4770.30</text>
<path d="M622.55 364.3 L625.55 368.8 L628.55 364.3 Z" fill="#fff" fill-opacity="0.8"/>
<rect x="607.5" y="354.7" width="35" height="9.6" fill="#fff" fill-opacity="0.8" stroke="#ccc" stroke-width="0.5"/>
<text x="608.5" y="363.09999999999997" font-size="9.5" class="vd" textLength="33" lengthAdjust="spacingAndGlyphs">5143.88</text>
<path d="M641.45 418.6 L644.45 413.5 L647.45 418.6 Z" fill="#fff" fill-opacity="0.8"/>
<rect x="626.5" y="418.6" width="35" height="9.6" fill="#fff" fill-opacity="0.8" stroke="#ccc" stroke-width="0.5"/>
<text x="627.5" y="427.0" font-size="9.5" class="vd" textLength="33" lengthAdjust="spacingAndGlyphs">4863.40</text>
<rect x="50" y="233.40" width="137" height="10.67" fill="#fff"/>
<text x="64.5" y="242.40" font-size="10.3" class="vd" fill="#000" textLength="119.5" lengthAdjust="spacing">$SOX (Daily) 5027.80</text>
<path d="M53.5 235.0 v7 M52.5 237.0 h2 v3 h-2 Z M57.5 234.5 v7.5 M56.5 236.0 h2 v4 h-2 Z" stroke="#000" fill="#fff" stroke-width="1"/>
<rect x="50" y="243.97" width="182.5" height="10.67" fill="#fff"/>
<text x="62.6" y="252.87" font-size="10" class="vd" fill="#000080" textLength="168" lengthAdjust="spacingAndGlyphs">CHAN(20) 4770.30 - 4961.82 - 5153.34</text>
<path d="M52 252.57 L52 249.57 L55 244.57 L56.5 248.07 L58.5 245.57 L60.5 249.57 L60.5 252.57 Z" fill="#a0a0d8" stroke="#8080c0" stroke-width="0.6"/>
<rect x="50" y="254.54" width="84" height="10.67" fill="#fff"/>
<text x="62.6" y="263.44" font-size="10" class="vd" fill="#cc0022" textLength="68.6" lengthAdjust="spacingAndGlyphs">MA(50) 5101.51</text>
<line x1="52" y1="259.64000000000004" x2="60.5" y2="259.64000000000004" stroke="#cc0022" stroke-width="1.6"/>
<rect x="50" y="265.11" width="88" height="10.67" fill="#fff"/>
<text x="62.6" y="274.01" font-size="10" class="vd" fill="#006600" textLength="74.6" lengthAdjust="spacingAndGlyphs">MA(200) 5054.47</text>
<line x1="52" y1="270.21000000000004" x2="60.5" y2="270.21000000000004" stroke="#006600" stroke-width="1.6"/>
<rect x="50" y="275.68" width="181.5" height="10.67" fill="#fff"/>
<text x="62.6" y="284.58" font-size="10" class="vd" fill="#ff00ff" textLength="167" lengthAdjust="spacingAndGlyphs">BB(20,2.0) 4819.18 - 4969.63 - 5120.07</text>
<line x1="52" y1="280.78000000000003" x2="60.5" y2="280.78000000000003" stroke="#ff00ff" stroke-width="1.6"/>
<rect x="50" y="286.25" width="84" height="10.67" fill="#fff"/>
<text x="62.6" y="295.15" font-size="10" class="vd" fill="#000" textLength="70.3" lengthAdjust="spacingAndGlyphs">$NASI 111.72%</text>
<path d="M52 294.85 L52 291.85 L55 286.85 L56.5 290.35 L58.5 287.85 L60.5 291.85 L60.5 294.85 Z" fill="#777" stroke="#333" stroke-width="0.6"/>
<rect x="50" y="296.82" width="84" height="10.67" fill="#fff"/>
<text x="62.6" y="305.72" font-size="10" class="vd" fill="#000" textLength="70.3" lengthAdjust="spacingAndGlyphs">%B(20,2.0) 0.69</text>
<line x1="52" y1="301.92" x2="60.5" y2="301.92" stroke="#000" stroke-width="1.6"/>
<rect x="50" y="307.39" width="66" height="10.67" fill="#fff"/>
<text x="62.6" y="316.29" font-size="10" class="vd" fill="#ff00ff" textLength="52.3" lengthAdjust="spacingAndGlyphs">$VIX 5.68%</text>
<path d="M52 315.99 L52 312.99 L55 307.99 L56.5 311.49 L58.5 308.99 L60.5 312.99 L60.5 315.99 Z" fill="#ff30ff" stroke="#ff00ff" stroke-width="0.6"/>
<line x1="49.5" y1="516.5" x2="49.5" y2="518.5" stroke="#999"/>
<line x1="49.5" y1="532.5" x2="49.5" y2="534.5" stroke="#aaa"/>
<line x1="54.5" y1="516.5" x2="54.5" y2="518.5" stroke="#999"/>
<line x1="54.5" y1="532.5" x2="54.5" y2="534.5" stroke="#aaa"/>
<line x1="59.5" y1="516.5" x2="59.5" y2="518.5" stroke="#999"/>
<line x1="59.5" y1="532.5" x2="59.5" y2="534.5" stroke="#aaa"/>
<line x1="63.5" y1="516.5" x2="63.5" y2="518.5" stroke="#999"/>
<line x1="63.5" y1="532.5" x2="63.5" y2="534.5" stroke="#aaa"/>
<line x1="68.5" y1="516.5" x2="68.5" y2="518.5" stroke="#999"/>
<line x1="68.5" y1="532.5" x2="68.5" y2="534.5" stroke="#aaa"/>
<line x1="73.5" y1="516.5" x2="73.5" y2="518.5" stroke="#999"/>
<line x1="73.5" y1="532.5" x2="73.5" y2="534.5" stroke="#aaa"/>
<line x1="77.5" y1="516.5" x2="77.5" y2="518.5" stroke="#999"/>
<line x1="77.5" y1="532.5" x2="77.5" y2="534.5" stroke="#aaa"/>
<line x1="82.5" y1="516.5" x2="82.5" y2="518.5" stroke="#999"/>
<line x1="82.5" y1="532.5" x2="82.5" y2="534.5" stroke="#aaa"/>
<line x1="87.5" y1="516.5" x2="87.5" y2="518.5" stroke="#999"/>
<line x1="87.5" y1="532.5" x2="87.5" y2="534.5" stroke="#aaa"/>
<line x1="92.5" y1="516.5" x2="92.5" y2="518.5" stroke="#999"/>
<line x1="92.5" y1="532.5" x2="92.5" y2="534.5" stroke="#aaa"/>
<line x1="96.5" y1="516.5" x2="96.5" y2="518.5" stroke="#999"/>
<line x1="96.5" y1="532.5" x2="96.5" y2="534.5" stroke="#aaa"/>
<line x1="101.5" y1="516.5" x2="101.5" y2="518.5" stroke="#999"/>
<line x1="101.5" y1="532.5" x2="101.5" y2="534.5" stroke="#aaa"/>
<line x1="106.5" y1="516.5" x2="106.5" y2="518.5" stroke="#999"/>
<line x1="106.5" y1="532.5" x2="106.5" y2="534.5" stroke="#aaa"/>
<line x1="111.5" y1="516.5" x2="111.5" y2="518.5" stroke="#999"/>
<line x1="111.5" y1="532.5" x2="111.5" y2="534.5" stroke="#aaa"/>
<line x1="115.5" y1="516.5" x2="115.5" y2="518.5" stroke="#999"/>
<line x1="115.5" y1="532.5" x2="115.5" y2="534.5" stroke="#aaa"/>
<line x1="120.5" y1="516.5" x2="120.5" y2="518.5" stroke="#999"/>
<line x1="120.5" y1="532.5" x2="120.5" y2="534.5" stroke="#aaa"/>
<line x1="125.5" y1="516.5" x2="125.5" y2="518.5" stroke="#999"/>
<line x1="125.5" y1="532.5" x2="125.5" y2="534.5" stroke="#aaa"/>
<line x1="129.5" y1="516.5" x2="129.5" y2="518.5" stroke="#999"/>
<line x1="129.5" y1="532.5" x2="129.5" y2="534.5" stroke="#aaa"/>
<line x1="134.5" y1="516.5" x2="134.5" y2="518.5" stroke="#999"/>
<line x1="134.5" y1="532.5" x2="134.5" y2="534.5" stroke="#aaa"/>
<line x1="139.5" y1="516.5" x2="139.5" y2="518.5" stroke="#999"/>
<line x1="139.5" y1="532.5" x2="139.5" y2="534.5" stroke="#aaa"/>
<line x1="144.5" y1="516.5" x2="144.5" y2="518.5" stroke="#999"/>
<line x1="144.5" y1="532.5" x2="144.5" y2="534.5" stroke="#aaa"/>
<line x1="148.5" y1="516.5" x2="148.5" y2="518.5" stroke="#999"/>
<line x1="148.5" y1="532.5" x2="148.5" y2="534.5" stroke="#aaa"/>
<line x1="153.5" y1="516.5" x2="153.5" y2="518.5" stroke="#999"/>
<line x1="153.5" y1="532.5" x2="153.5" y2="534.5" stroke="#aaa"/>
<line x1="158.5" y1="516.5" x2="158.5" y2="518.5" stroke="#999"/>
<line x1="158.5" y1="532.5" x2="158.5" y2="534.5" stroke="#aaa"/>
<line x1="162.5" y1="516.5" x2="162.5" y2="518.5" stroke="#999"/>
<line x1="162.5" y1="532.5" x2="162.5" y2="534.5" stroke="#aaa"/>
<line x1="167.5" y1="516.5" x2="167.5" y2="518.5" stroke="#999"/>
<line x1="167.5" y1="532.5" x2="167.5" y2="534.5" stroke="#aaa"/>
<line x1="172.5" y1="516.5" x2="172.5" y2="518.5" stroke="#999"/>
<line x1="172.5" y1="532.5" x2="172.5" y2="534.5" stroke="#aaa"/>
<line x1="177.5" y1="516.5" x2="177.5" y2="518.5" stroke="#999"/>
<line x1="177.5" y1="532.5" x2="177.5" y2="534.5" stroke="#aaa"/>
<line x1="181.5" y1="516.5" x2="181.5" y2="518.5" stroke="#999"/>
<line x1="181.5" y1="532.5" x2="181.5" y2="534.5" stroke="#aaa"/>
<line x1="186.5" y1="516.5" x2="186.5" y2="518.5" stroke="#999"/>
<line x1="186.5" y1="532.5" x2="186.5" y2="534.5" stroke="#aaa"/>
<line x1="191.5" y1="516.5" x2="191.5" y2="518.5" stroke="#999"/>
<line x1="191.5" y1="532.5" x2="191.5" y2="534.5" stroke="#aaa"/>
<line x1="196.5" y1="516.5" x2="196.5" y2="518.5" stroke="#999"/>
<line x1="196.5" y1="532.5" x2="196.5" y2="534.5" stroke="#aaa"/>
<line x1="200.5" y1="516.5" x2="200.5" y2="518.5" stroke="#999"/>
<line x1="200.5" y1="532.5" x2="200.5" y2="534.5" stroke="#aaa"/>
<line x1="205.5" y1="516.5" x2="205.5" y2="518.5" stroke="#999"/>
<line x1="205.5" y1="532.5" x2="205.5" y2="534.5" stroke="#aaa"/>
<line x1="210.5" y1="516.5" x2="210.5" y2="518.5" stroke="#999"/>
<line x1="210.5" y1="532.5" x2="210.5" y2="534.5" stroke="#aaa"/>
<line x1="214.5" y1="516.5" x2="214.5" y2="518.5" stroke="#999"/>
<line x1="214.5" y1="532.5" x2="214.5" y2="534.5" stroke="#aaa"/>
<line x1="219.5" y1="516.5" x2="219.5" y2="518.5" stroke="#999"/>
<line x1="219.5" y1="532.5" x2="219.5" y2="534.5" stroke="#aaa"/>
<line x1="224.5" y1="516.5" x2="224.5" y2="518.5" stroke="#999"/>
<line x1="224.5" y1="532.5" x2="224.5" y2="534.5" stroke="#aaa"/>
<line x1="229.5" y1="516.5" x2="229.5" y2="518.5" stroke="#999"/>
<line x1="229.5" y1="532.5" x2="229.5" y2="534.5" stroke="#aaa"/>
<line x1="233.5" y1="516.5" x2="233.5" y2="518.5" stroke="#999"/>
<line x1="233.5" y1="532.5" x2="233.5" y2="534.5" stroke="#aaa"/>
<line x1="238.5" y1="516.5" x2="238.5" y2="518.5" stroke="#999"/>
<line x1="238.5" y1="532.5" x2="238.5" y2="534.5" stroke="#aaa"/>
<line x1="243.5" y1="516.5" x2="243.5" y2="518.5" stroke="#999"/>
<line x1="243.5" y1="532.5" x2="243.5" y2="534.5" stroke="#aaa"/>
<line x1="248.5" y1="516.5" x2="248.5" y2="518.5" stroke="#999"/>
<line x1="248.5" y1="532.5" x2="248.5" y2="534.5" stroke="#aaa"/>
<line x1="252.5" y1="516.5" x2="252.5" y2="518.5" stroke="#999"/>
<line x1="252.5" y1="532.5" x2="252.5" y2="534.5" stroke="#aaa"/>
<line x1="257.5" y1="516.5" x2="257.5" y2="518.5" stroke="#999"/>
<line x1="257.5" y1="532.5" x2="257.5" y2="534.5" stroke="#aaa"/>
<line x1="262.5" y1="516.5" x2="262.5" y2="518.5" stroke="#999"/>
<line x1="262.5" y1="532.5" x2="262.5" y2="534.5" stroke="#aaa"/>
<line x1="266.5" y1="516.5" x2="266.5" y2="518.5" stroke="#999"/>
<line x1="266.5" y1="532.5" x2="266.5" y2="534.5" stroke="#aaa"/>
<line x1="271.5" y1="516.5" x2="271.5" y2="518.5" stroke="#999"/>
<line x1="271.5" y1="532.5" x2="271.5" y2="534.5" stroke="#aaa"/>
<line x1="276.5" y1="516.5" x2="276.5" y2="518.5" stroke="#999"/>
<line x1="276.5" y1="532.5" x2="276.5" y2="534.5" stroke="#aaa"/>
<line x1="281.5" y1="516.5" x2="281.5" y2="518.5" stroke="#999"/>
<line x1="281.5" y1="532.5" x2="281.5" y2="534.5" stroke="#aaa"/>
<line x1="285.5" y1="516.5" x2="285.5" y2="518.5" stroke="#999"/>
<line x1="285.5" y1="532.5" x2="285.5" y2="534.5" stroke="#aaa"/>
<line x1="290.5" y1="516.5" x2="290.5" y2="518.5" stroke="#999"/>
<line x1="290.5" y1="532.5" x2="290.5" y2="534.5" stroke="#aaa"/>
<line x1="295.5" y1="516.5" x2="295.5" y2="518.5" stroke="#999"/>
<line x1="295.5" y1="532.5" x2="295.5" y2="534.5" stroke="#aaa"/>
<line x1="300.5" y1="516.5" x2="300.5" y2="518.5" stroke="#999"/>
<line x1="300.5" y1="532.5" x2="300.5" y2="534.5" stroke="#aaa"/>
<line x1="304.5" y1="516.5" x2="304.5" y2="518.5" stroke="#999"/>
<line x1="304.5" y1="532.5" x2="304.5" y2="534.5" stroke="#aaa"/>
<line x1="309.5" y1="516.5" x2="309.5" y2="518.5" stroke="#999"/>
<line x1="309.5" y1="532.5" x2="309.5" y2="534.5" stroke="#aaa"/>
<line x1="314.5" y1="516.5" x2="314.5" y2="518.5" stroke="#999"/>
<line x1="314.5" y1="532.5" x2="314.5" y2="534.5" stroke="#aaa"/>
<line x1="318.5" y1="516.5" x2="318.5" y2="518.5" stroke="#999"/>
<line x1="318.5" y1="532.5" x2="318.5" y2="534.5" stroke="#aaa"/>
<line x1="323.5" y1="516.5" x2="323.5" y2="518.5" stroke="#999"/>
<line x1="323.5" y1="532.5" x2="323.5" y2="534.5" stroke="#aaa"/>
<line x1="328.5" y1="516.5" x2="328.5" y2="518.5" stroke="#999"/>
<line x1="328.5" y1="532.5" x2="328.5" y2="534.5" stroke="#aaa"/>
<line x1="333.5" y1="516.5" x2="333.5" y2="518.5" stroke="#999"/>
<line x1="333.5" y1="532.5" x2="333.5" y2="534.5" stroke="#aaa"/>
<line x1="337.5" y1="516.5" x2="337.5" y2="518.5" stroke="#999"/>
<line x1="337.5" y1="532.5" x2="337.5" y2="534.5" stroke="#aaa"/>
<line x1="342.5" y1="516.5" x2="342.5" y2="518.5" stroke="#999"/>
<line x1="342.5" y1="532.5" x2="342.5" y2="534.5" stroke="#aaa"/>
<line x1="347.5" y1="516.5" x2="347.5" y2="518.5" stroke="#999"/>
<line x1="347.5" y1="532.5" x2="347.5" y2="534.5" stroke="#aaa"/>
<line x1="352.5" y1="516.5" x2="352.5" y2="518.5" stroke="#999"/>
<line x1="352.5" y1="532.5" x2="352.5" y2="534.5" stroke="#aaa"/>
<line x1="356.5" y1="516.5" x2="356.5" y2="518.5" stroke="#999"/>
<line x1="356.5" y1="532.5" x2="356.5" y2="534.5" stroke="#aaa"/>
<line x1="361.5" y1="516.5" x2="361.5" y2="518.5" stroke="#999"/>
<line x1="361.5" y1="532.5" x2="361.5" y2="534.5" stroke="#aaa"/>
<line x1="366.5" y1="516.5" x2="366.5" y2="518.5" stroke="#999"/>
<line x1="366.5" y1="532.5" x2="366.5" y2="534.5" stroke="#aaa"/>
<line x1="370.5" y1="516.5" x2="370.5" y2="518.5" stroke="#999"/>
<line x1="370.5" y1="532.5" x2="370.5" y2="534.5" stroke="#aaa"/>
<line x1="375.5" y1="516.5" x2="375.5" y2="518.5" stroke="#999"/>
<line x1="375.5" y1="532.5" x2="375.5" y2="534.5" stroke="#aaa"/>
<line x1="380.5" y1="516.5" x2="380.5" y2="518.5" stroke="#999"/>
<line x1="380.5" y1="532.5" x2="380.5" y2="534.5" stroke="#aaa"/>
<line x1="385.5" y1="516.5" x2="385.5" y2="518.5" stroke="#999"/>
<line x1="385.5" y1="532.5" x2="385.5" y2="534.5" stroke="#aaa"/>
<line x1="389.5" y1="516.5" x2="389.5" y2="518.5" stroke="#999"/>
<line x1="389.5" y1="532.5" x2="389.5" y2="534.5" stroke="#aaa"/>
<line x1="394.5" y1="516.5" x2="394.5" y2="518.5" stroke="#999"/>
<line x1="394.5" y1="532.5" x2="394.5" y2="534.5" stroke="#aaa"/>
<line x1="399.5" y1="516.5" x2="399.5" y2="518.5" stroke="#999"/>
<line x1="399.5" y1="532.5" x2="399.5" y2="534.5" stroke="#aaa"/>
<line x1="403.5" y1="516.5" x2="403.5" y2="518.5" stroke="#999"/>
<line x1="403.5" y1="532.5" x2="403.5" y2="534.5" stroke="#aaa"/>
<line x1="408.5" y1="516.5" x2="408.5" y2="518.5" stroke="#999"/>
<line x1="408.5" y1="532.5" x2="408.5" y2="534.5" stroke="#aaa"/>
<line x1="413.5" y1="516.5" x2="413.5" y2="518.5" stroke="#999"/>
<line x1="413.5" y1="532.5" x2="413.5" y2="534.5" stroke="#aaa"/>
<line x1="418.5" y1="516.5" x2="418.5" y2="518.5" stroke="#999"/>
<line x1="418.5" y1="532.5" x2="418.5" y2="534.5" stroke="#aaa"/>
<line x1="422.5" y1="516.5" x2="422.5" y2="518.5" stroke="#999"/>
<line x1="422.5" y1="532.5" x2="422.5" y2="534.5" stroke="#aaa"/>
<line x1="427.5" y1="516.5" x2="427.5" y2="518.5" stroke="#999"/>
<line x1="427.5" y1="532.5" x2="427.5" y2="534.5" stroke="#aaa"/>
<line x1="432.5" y1="516.5" x2="432.5" y2="518.5" stroke="#999"/>
<line x1="432.5" y1="532.5" x2="432.5" y2="534.5" stroke="#aaa"/>
<line x1="437.5" y1="516.5" x2="437.5" y2="518.5" stroke="#999"/>
<line x1="437.5" y1="532.5" x2="437.5" y2="534.5" stroke="#aaa"/>
<line x1="441.5" y1="516.5" x2="441.5" y2="518.5" stroke="#999"/>
<line x1="441.5" y1="532.5" x2="441.5" y2="534.5" stroke="#aaa"/>
<line x1="446.5" y1="516.5" x2="446.5" y2="518.5" stroke="#999"/>
<line x1="446.5" y1="532.5" x2="446.5" y2="534.5" stroke="#aaa"/>
<line x1="451.5" y1="516.5" x2="451.5" y2="518.5" stroke="#999"/>
<line x1="451.5" y1="532.5" x2="451.5" y2="534.5" stroke="#aaa"/>
<line x1="455.5" y1="516.5" x2="455.5" y2="518.5" stroke="#999"/>
<line x1="455.5" y1="532.5" x2="455.5" y2="534.5" stroke="#aaa"/>
<line x1="460.5" y1="516.5" x2="460.5" y2="518.5" stroke="#999"/>
<line x1="460.5" y1="532.5" x2="460.5" y2="534.5" stroke="#aaa"/>
<line x1="465.5" y1="516.5" x2="465.5" y2="518.5" stroke="#999"/>
<line x1="465.5" y1="532.5" x2="465.5" y2="534.5" stroke="#aaa"/>
<line x1="470.5" y1="516.5" x2="470.5" y2="518.5" stroke="#999"/>
<line x1="470.5" y1="532.5" x2="470.5" y2="534.5" stroke="#aaa"/>
<line x1="474.5" y1="516.5" x2="474.5" y2="518.5" stroke="#999"/>
<line x1="474.5" y1="532.5" x2="474.5" y2="534.5" stroke="#aaa"/>
<line x1="479.5" y1="516.5" x2="479.5" y2="518.5" stroke="#999"/>
<line x1="479.5" y1="532.5" x2="479.5" y2="534.5" stroke="#aaa"/>
<line x1="484.5" y1="516.5" x2="484.5" y2="518.5" stroke="#999"/>
<line x1="484.5" y1="532.5" x2="484.5" y2="534.5" stroke="#aaa"/>
<line x1="489.5" y1="516.5" x2="489.5" y2="518.5" stroke="#999"/>
<line x1="489.5" y1="532.5" x2="489.5" y2="534.5" stroke="#aaa"/>
<line x1="493.5" y1="516.5" x2="493.5" y2="518.5" stroke="#999"/>
<line x1="493.5" y1="532.5" x2="493.5" y2="534.5" stroke="#aaa"/>
<line x1="498.5" y1="516.5" x2="498.5" y2="518.5" stroke="#999"/>
<line x1="498.5" y1="532.5" x2="498.5" y2="534.5" stroke="#aaa"/>
<line x1="503.5" y1="516.5" x2="503.5" y2="518.5" stroke="#999"/>
<line x1="503.5" y1="532.5" x2="503.5" y2="534.5" stroke="#aaa"/>
<line x1="507.5" y1="516.5" x2="507.5" y2="518.5" stroke="#999"/>
<line x1="507.5" y1="532.5" x2="507.5" y2="534.5" stroke="#aaa"/>
<line x1="512.5" y1="516.5" x2="512.5" y2="518.5" stroke="#999"/>
<line x1="512.5" y1="532.5" x2="512.5" y2="534.5" stroke="#aaa"/>
<line x1="517.5" y1="516.5" x2="517.5" y2="518.5" stroke="#999"/>
<line x1="517.5" y1="532.5" x2="517.5" y2="534.5" stroke="#aaa"/>
<line x1="522.5" y1="516.5" x2="522.5" y2="518.5" stroke="#999"/>
<line x1="522.5" y1="532.5" x2="522.5" y2="534.5" stroke="#aaa"/>
<line x1="526.5" y1="516.5" x2="526.5" y2="518.5" stroke="#999"/>
<line x1="526.5" y1="532.5" x2="526.5" y2="534.5" stroke="#aaa"/>
<line x1="531.5" y1="516.5" x2="531.5" y2="518.5" stroke="#999"/>
<line x1="531.5" y1="532.5" x2="531.5" y2="534.5" stroke="#aaa"/>
<line x1="536.5" y1="516.5" x2="536.5" y2="518.5" stroke="#999"/>
<line x1="536.5" y1="532.5" x2="536.5" y2="534.5" stroke="#aaa"/>
<line x1="540.5" y1="516.5" x2="540.5" y2="518.5" stroke="#999"/>
<line x1="540.5" y1="532.5" x2="540.5" y2="534.5" stroke="#aaa"/>
<line x1="545.5" y1="516.5" x2="545.5" y2="518.5" stroke="#999"/>
<line x1="545.5" y1="532.5" x2="545.5" y2="534.5" stroke="#aaa"/>
<line x1="550.5" y1="516.5" x2="550.5" y2="518.5" stroke="#999"/>
<line x1="550.5" y1="532.5" x2="550.5" y2="534.5" stroke="#aaa"/>
<line x1="555.5" y1="516.5" x2="555.5" y2="518.5" stroke="#999"/>
<line x1="555.5" y1="532.5" x2="555.5" y2="534.5" stroke="#aaa"/>
<line x1="559.5" y1="516.5" x2="559.5" y2="518.5" stroke="#999"/>
<line x1="559.5" y1="532.5" x2="559.5" y2="534.5" stroke="#aaa"/>
<line x1="564.5" y1="516.5" x2="564.5" y2="518.5" stroke="#999"/>
<line x1="564.5" y1="532.5" x2="564.5" y2="534.5" stroke="#aaa"/>
<line x1="569.5" y1="516.5" x2="569.5" y2="518.5" stroke="#999"/>
<line x1="569.5" y1="532.5" x2="569.5" y2="534.5" stroke="#aaa"/>
<line x1="574.5" y1="516.5" x2="574.5" y2="518.5" stroke="#999"/>
<line x1="574.5" y1="532.5" x2="574.5" y2="534.5" stroke="#aaa"/>
<line x1="578.5" y1="516.5" x2="578.5" y2="518.5" stroke="#999"/>
<line x1="578.5" y1="532.5" x2="578.5" y2="534.5" stroke="#aaa"/>
<line x1="583.5" y1="516.5" x2="583.5" y2="518.5" stroke="#999"/>
<line x1="583.5" y1="532.5" x2="583.5" y2="534.5" stroke="#aaa"/>
<line x1="588.5" y1="516.5" x2="588.5" y2="518.5" stroke="#999"/>
<line x1="588.5" y1="532.5" x2="588.5" y2="534.5" stroke="#aaa"/>
<line x1="592.5" y1="516.5" x2="592.5" y2="518.5" stroke="#999"/>
<line x1="592.5" y1="532.5" x2="592.5" y2="534.5" stroke="#aaa"/>
<line x1="597.5" y1="516.5" x2="597.5" y2="518.5" stroke="#999"/>
<line x1="597.5" y1="532.5" x2="597.5" y2="534.5" stroke="#aaa"/>
<line x1="602.5" y1="516.5" x2="602.5" y2="518.5" stroke="#999"/>
<line x1="602.5" y1="532.5" x2="602.5" y2="534.5" stroke="#aaa"/>
<line x1="607.5" y1="516.5" x2="607.5" y2="518.5" stroke="#999"/>
<line x1="607.5" y1="532.5" x2="607.5" y2="534.5" stroke="#aaa"/>
<line x1="611.5" y1="516.5" x2="611.5" y2="518.5" stroke="#999"/>
<line x1="611.5" y1="532.5" x2="611.5" y2="534.5" stroke="#aaa"/>
<line x1="616.5" y1="516.5" x2="616.5" y2="518.5" stroke="#999"/>
<line x1="616.5" y1="532.5" x2="616.5" y2="534.5" stroke="#aaa"/>
<line x1="621.5" y1="516.5" x2="621.5" y2="518.5" stroke="#999"/>
<line x1="621.5" y1="532.5" x2="621.5" y2="534.5" stroke="#aaa"/>
<line x1="626.5" y1="516.5" x2="626.5" y2="518.5" stroke="#999"/>
<line x1="626.5" y1="532.5" x2="626.5" y2="534.5" stroke="#aaa"/>
<line x1="630.5" y1="516.5" x2="630.5" y2="518.5" stroke="#999"/>
<line x1="630.5" y1="532.5" x2="630.5" y2="534.5" stroke="#aaa"/>
<line x1="635.5" y1="516.5" x2="635.5" y2="518.5" stroke="#999"/>
<line x1="635.5" y1="532.5" x2="635.5" y2="534.5" stroke="#aaa"/>
<line x1="640.5" y1="516.5" x2="640.5" y2="518.5" stroke="#999"/>
<line x1="640.5" y1="532.5" x2="640.5" y2="534.5" stroke="#aaa"/>
<line x1="644.5" y1="516.5" x2="644.5" y2="518.5" stroke="#999"/>
<line x1="644.5" y1="532.5" x2="644.5" y2="534.5" stroke="#aaa"/>
<line x1="649.5" y1="516.5" x2="649.5" y2="518.5" stroke="#999"/>
<line x1="649.5" y1="532.5" x2="649.5" y2="534.5" stroke="#aaa"/>
<line x1="68.5" y1="532.5" x2="68.5" y2="733.5" stroke="#d4d4d4"/>
<line x1="87.5" y1="532.5" x2="87.5" y2="733.5" stroke="#d4d4d4"/>
<line x1="129.5" y1="532.5" x2="129.5" y2="733.5" stroke="#d4d4d4"/>
<line x1="153.5" y1="532.5" x2="153.5" y2="733.5" stroke="#d4d4d4"/>
<line x1="177.5" y1="532.5" x2="177.5" y2="733.5" stroke="#d4d4d4"/>
<line x1="200.5" y1="532.5" x2="200.5" y2="733.5" stroke="#d4d4d4"/>
<line x1="224.5" y1="532.5" x2="224.5" y2="733.5" stroke="#d4d4d4"/>
<line x1="248.5" y1="532.5" x2="248.5" y2="733.5" stroke="#d4d4d4"/>
<line x1="271.5" y1="532.5" x2="271.5" y2="733.5" stroke="#d4d4d4"/>
<line x1="295.5" y1="532.5" x2="295.5" y2="733.5" stroke="#d4d4d4"/>
<line x1="337.5" y1="532.5" x2="337.5" y2="733.5" stroke="#d4d4d4"/>
<line x1="361.5" y1="532.5" x2="361.5" y2="733.5" stroke="#d4d4d4"/>
<line x1="385.5" y1="532.5" x2="385.5" y2="733.5" stroke="#d4d4d4"/>
<line x1="408.5" y1="532.5" x2="408.5" y2="733.5" stroke="#d4d4d4"/>
<line x1="432.5" y1="532.5" x2="432.5" y2="733.5" stroke="#d4d4d4"/>
<line x1="455.5" y1="532.5" x2="455.5" y2="733.5" stroke="#d4d4d4"/>
<line x1="479.5" y1="532.5" x2="479.5" y2="733.5" stroke="#d4d4d4"/>
<line x1="503.5" y1="532.5" x2="503.5" y2="733.5" stroke="#d4d4d4"/>
<line x1="526.5" y1="532.5" x2="526.5" y2="733.5" stroke="#d4d4d4"/>
<line x1="550.5" y1="532.5" x2="550.5" y2="733.5" stroke="#d4d4d4"/>
<line x1="574.5" y1="532.5" x2="574.5" y2="733.5" stroke="#d4d4d4"/>
<line x1="597.5" y1="532.5" x2="597.5" y2="733.5" stroke="#d4d4d4"/>
<line x1="640.5" y1="532.5" x2="640.5" y2="733.5" stroke="#d4d4d4"/>
<line x1="111.5" y1="532.5" x2="111.5" y2="733.5" stroke="#b2b2b2"/>
<line x1="214.5" y1="532.5" x2="214.5" y2="733.5" stroke="#b2b2b2"/>
<line x1="318.5" y1="532.5" x2="318.5" y2="733.5" stroke="#b2b2b2"/>
<line x1="413.5" y1="532.5" x2="413.5" y2="733.5" stroke="#b2b2b2"/>
<line x1="522.5" y1="532.5" x2="522.5" y2="733.5" stroke="#b2b2b2"/>
<line x1="616.5" y1="532.5" x2="616.5" y2="733.5" stroke="#b2b2b2"/>
<line x1="49.5" y1="539.5" x2="656.5" y2="539.5" stroke="#ebebeb"/>
<line x1="49.5" y1="557.5" x2="656.5" y2="557.5" stroke="#ebebeb"/>
<line x1="49.5" y1="576.5" x2="656.5" y2="576.5" stroke="#ebebeb"/>
<line x1="49.5" y1="612.5" x2="656.5" y2="612.5" stroke="#ebebeb"/>
<line x1="49.5" y1="630.5" x2="656.5" y2="630.5" stroke="#ebebeb"/>
<line x1="49.5" y1="639.5" x2="656.5" y2="639.5" stroke="#ebebeb"/>
<line x1="49.5" y1="659.5" x2="656.5" y2="659.5" stroke="#ebebeb"/>
<line x1="49.5" y1="698.5" x2="656.5" y2="698.5" stroke="#ebebeb"/>
<line x1="49.5" y1="718.5" x2="656.5" y2="718.5" stroke="#ebebeb"/>
<line x1="49.5" y1="594.5" x2="656.5" y2="594.5" stroke="#555"/>
<polygon points="50.00,633.00 50.00,593.75 53.75,586.25 58.75,581.25 63.00,576.25 68.00,576.25 72.50,575.75 77.50,572.00 82.00,570.00 86.75,574.25 91.25,572.00 96.25,574.25 101.25,572.00 105.50,568.25 110.50,574.25 115.50,574.25 120.00,568.25 124.50,568.25 129.50,570.00 134.50,570.00 138.75,574.25 143.75,572.00 148.25,567.50 153.00,565.50 157.50,565.00 162.00,590.00 166.75,592.00 171.25,590.75 176.25,592.00 181.25,597.00 186.25,605.00 191.25,605.50 195.75,611.25 200.00,609.25 205.00,609.25 210.00,590.00 215.00,592.00 220.00,610.00 224.50,626.00 229.29,624.57 235.00,622.14 238.57,618.86 242.86,609.29 247.86,597.14 251.25,580.00 256.25,570.00 261.75,561.25 266.25,561.25 271.25,555.00 276.25,553.00 280.50,539.25 285.50,543.00 290.50,545.00 295.00,547.00 299.50,553.00 304.50,553.00 309.50,549.00 313.75,551.25 318.75,572.50 323.25,583.75 328.00,590.00 332.50,596.25 337.50,594.50 341.75,594.50 347.50,580.00 351.25,570.00 356.25,560.00 361.25,557.50 366.25,557.00 370.75,554.50 375.00,549.25 380.50,549.25 385.00,555.00 390.00,557.00 394.50,558.75 399.25,551.75 403.75,553.25 408.75,553.25 413.75,568.25 418.00,568.25 422.50,570.00 427.50,563.00 432.00,565.25 436.75,565.00 441.25,563.25 446.25,563.00 451.25,561.25 455.50,553.25 460.75,565.25 465.50,565.25 470.00,567.00 474.50,563.00 479.50,565.00 484.50,570.00 488.75,578.00 493.75,578.00 498.25,580.00 503.00,578.00 507.50,576.00 512.50,574.50 517.50,582.00 522.50,586.25 526.25,590.00 531.25,586.25 536.25,567.50 540.75,555.00 545.00,553.25 550.00,547.50 555.00,553.25 560.00,555.75 564.50,559.50 569.50,568.25 574.25,570.00 578.75,568.25 583.75,570.00 588.25,568.25 593.75,563.25 597.50,551.75 602.50,549.25 607.00,555.00 612.00,547.50 616.75,547.50 621.75,549.25 626.25,547.50 630.75,547.50 635.50,547.25 640.00,545.50 645.50,547.25 649.50,545.50 649.50,633.00" fill="#cf2f4f" fill-opacity="0.82"/>
<polyline points="50.00,593.75 53.75,586.25 58.75,581.25 63.00,576.25 68.00,576.25 72.50,575.75 77.50,572.00 82.00,570.00 86.75,574.25 91.25,572.00 96.25,574.25 101.25,572.00 105.50,568.25 110.50,574.25 115.50,574.25 120.00,568.25 124.50,568.25 129.50,570.00 134.50,570.00 138.75,574.25 143.75,572.00 148.25,567.50 153.00,565.50 157.50,565.00 162.00,590.00 166.75,592.00 171.25,590.75 176.25,592.00 181.25,597.00 186.25,605.00 191.25,605.50 195.75,611.25 200.00,609.25 205.00,609.25 210.00,590.00 215.00,592.00 220.00,610.00 224.50,626.00 229.29,624.57 235.00,622.14 238.57,618.86 242.86,609.29 247.86,597.14 251.25,580.00 256.25,570.00 261.75,561.25 266.25,561.25 271.25,555.00 276.25,553.00 280.50,539.25 285.50,543.00 290.50,545.00 295.00,547.00 299.50,553.00 304.50,553.00 309.50,549.00 313.75,551.25 318.75,572.50 323.25,583.75 328.00,590.00 332.50,596.25 337.50,594.50 341.75,594.50 347.50,580.00 351.25,570.00 356.25,560.00 361.25,557.50 366.25,557.00 370.75,554.50 375.00,549.25 380.50,549.25 385.00,555.00 390.00,557.00 394.50,558.75 399.25,551.75 403.75,553.25 408.75,553.25 413.75,568.25 418.00,568.25 422.50,570.00 427.50,563.00 432.00,565.25 436.75,565.00 441.25,563.25 446.25,563.00 451.25,561.25 455.50,553.25 460.75,565.25 465.50,565.25 470.00,567.00 474.50,563.00 479.50,565.00 484.50,570.00 488.75,578.00 493.75,578.00 498.25,580.00 503.00,578.00 507.50,576.00 512.50,574.50 517.50,582.00 522.50,586.25 526.25,590.00 531.25,586.25 536.25,567.50 540.75,555.00 545.00,553.25 550.00,547.50 555.00,553.25 560.00,555.75 564.50,559.50 569.50,568.25 574.25,570.00 578.75,568.25 583.75,570.00 588.25,568.25 593.75,563.25 597.50,551.75 602.50,549.25 607.00,555.00 612.00,547.50 616.75,547.50 621.75,549.25 626.25,547.50 630.75,547.50 635.50,547.25 640.00,545.50 645.50,547.25 649.50,545.50" fill="none" stroke="#c8143c" stroke-width="1.2"/>
<line x1="49.5" y1="594.5" x2="649.5" y2="594.5" stroke="#a01535"/>
<line x1="49.5" y1="633.5" x2="656.5" y2="633.5" stroke="#a8a8a8"/>
<rect x="50.00" y="676.25" width="4.50" height="2.25" fill="#4a9ac4" stroke="#256a92" stroke-width="0.8"/>
<rect x="54.50" y="675.75" width="4.75" height="2.75" fill="#4a9ac4" stroke="#256a92" stroke-width="0.8"/>
<rect x="59.25" y="675.00" width="4.50" height="3.50" fill="#4a9ac4" stroke="#256a92" stroke-width="0.8"/>
<rect x="63.75" y="673.75" width="5.00" height="4.75" fill="#4a9ac4" stroke="#256a92" stroke-width="0.8"/>
<rect x="68.75" y="672.50" width="5.00" height="6.00" fill="#4a9ac4" stroke="#256a92" stroke-width="0.8"/>
<rect x="73.75" y="673.00" width="4.25" height="5.50" fill="#4a9ac4" stroke="#256a92" stroke-width="0.8"/>
<rect x="78.00" y="675.50" width="4.50" height="3.00" fill="#4a9ac4" stroke="#256a92" stroke-width="0.8"/>
<rect x="82.50" y="678.50" width="5.00" height="2.25" fill="#4a9ac4" stroke="#256a92" stroke-width="0.8"/>
<rect x="87.50" y="678.50" width="4.50" height="4.00" fill="#4a9ac4" stroke="#256a92" stroke-width="0.8"/>
<rect x="92.00" y="678.50" width="4.75" height="5.25" fill="#4a9ac4" stroke="#256a92" stroke-width="0.8"/>
<rect x="96.75" y="678.50" width="4.50" height="6.50" fill="#4a9ac4" stroke="#256a92" stroke-width="0.8"/>
<rect x="101.25" y="678.50" width="5.00" height="7.00" fill="#4a9ac4" stroke="#256a92" stroke-width="0.8"/>
<rect x="106.25" y="678.50" width="4.50" height="6.50" fill="#4a9ac4" stroke="#256a92" stroke-width="0.8"/>
<rect x="110.75" y="678.50" width="4.75" height="5.25" fill="#4a9ac4" stroke="#256a92" stroke-width="0.8"/>
<rect x="115.50" y="678.50" width="4.50" height="4.00" fill="#4a9ac4" stroke="#256a92" stroke-width="0.8"/>
<rect x="120.00" y="678.50" width="5.00" height="2.75" fill="#4a9ac4" stroke="#256a92" stroke-width="0.8"/>
<rect x="125.00" y="678.50" width="4.50" height="1.50" fill="#4a9ac4" stroke="#256a92" stroke-width="0.8"/>
<rect x="129.50" y="678.50" width="4.75" height="0.80" fill="#4a9ac4" stroke="#256a92" stroke-width="0.8"/>
<rect x="134.25" y="676.75" width="4.50" height="1.75" fill="#4a9ac4" stroke="#256a92" stroke-width="0.8"/>
<rect x="138.75" y="676.25" width="5.00" height="2.25" fill="#4a9ac4" stroke="#256a92" stroke-width="0.8"/>
<rect x="143.75" y="677.00" width="4.50" height="1.50" fill="#4a9ac4" stroke="#256a92" stroke-width="0.8"/>
<rect x="148.25" y="678.00" width="4.75" height="0.80" fill="#4a9ac4" stroke="#256a92" stroke-width="0.8"/>
<rect x="153.00" y="678.50" width="4.50" height="1.00" fill="#4a9ac4" stroke="#256a92" stroke-width="0.8"/>
<rect x="157.50" y="678.50" width="5.00" height="4.00" fill="#4a9ac4" stroke="#256a92" stroke-width="0.8"/>
<rect x="162.50" y="678.50" width="4.50" height="7.00" fill="#4a9ac4" stroke="#256a92" stroke-width="0.8"/>
<rect x="167.00" y="678.50" width="4.75" height="10.25" fill="#4a9ac4" stroke="#256a92" stroke-width="0.8"/>
<rect x="171.75" y="678.50" width="4.50" height="12.25" fill="#4a9ac4" stroke="#256a92" stroke-width="0.8"/>
<rect x="176.25" y="678.50" width="5.00" height="12.25" fill="#4a9ac4" stroke="#256a92" stroke-width="0.8"/>
<rect x="181.25" y="678.50" width="4.50" height="12.75" fill="#4a9ac4" stroke="#256a92" stroke-width="0.8"/>
<rect x="185.75" y="678.50" width="4.75" height="16.00" fill="#4a9ac4" stroke="#256a92" stroke-width="0.8"/>
<rect x="190.50" y="678.50" width="4.50" height="17.75" fill="#4a9ac4" stroke="#256a92" stroke-width="0.8"/>
<rect x="195.00" y="678.50" width="5.00" height="17.75" fill="#4a9ac4" stroke="#256a92" stroke-width="0.8"/>
<rect x="200.00" y="678.50" width="4.50" height="17.75" fill="#4a9ac4" stroke="#256a92" stroke-width="0.8"/>
<rect x="204.50" y="678.50" width="4.75" height="17.00" fill="#4a9ac4" stroke="#256a92" stroke-width="0.8"/>
<rect x="209.25" y="678.50" width="4.50" height="14.00" fill="#4a9ac4" stroke="#256a92" stroke-width="0.8"/>
<rect x="213.75" y="678.50" width="5.00" height="14.00" fill="#4a9ac4" stroke="#256a92" stroke-width="0.8"/>
<rect x="218.75" y="678.50" width="4.50" height="17.00" fill="#4a9ac4" stroke="#256a92" stroke-width="0.8"/>
<rect x="223.25" y="678.50" width="4.25" height="20.25" fill="#4a9ac4" stroke="#256a92" stroke-width="0.8"/>
<rect x="227.50" y="678.50" width="4.50" height="18.50" fill="#4a9ac4" stroke="#256a92" stroke-width="0.8"/>
<rect x="232.00" y="678.50" width="4.75" height="18.50" fill="#4a9ac4" stroke="#256a92" stroke-width="0.8"/>
<rect x="236.75" y="678.50" width="4.50" height="12.75" fill="#4a9ac4" stroke="#256a92" stroke-width="0.8"/>
<rect x="241.25" y="678.50" width="5.00" height="9.00" fill="#4a9ac4" stroke="#256a92" stroke-width="0.8"/>
<rect x="246.25" y="678.50" width="4.50" height="6.00" fill="#4a9ac4" stroke="#256a92" stroke-width="0.8"/>
<rect x="250.75" y="678.50" width="4.75" height="3.25" fill="#4a9ac4" stroke="#256a92" stroke-width="0.8"/>
<rect x="255.50" y="676.25" width="4.50" height="2.25" fill="#4a9ac4" stroke="#256a92" stroke-width="0.8"/>
<rect x="260.00" y="670.00" width="5.00" height="8.50" fill="#4a9ac4" stroke="#256a92" stroke-width="0.8"/>
<rect x="265.00" y="667.00" width="4.50" height="11.50" fill="#4a9ac4" stroke="#256a92" stroke-width="0.8"/>
<rect x="269.50" y="664.50" width="4.75" height="14.00" fill="#4a9ac4" stroke="#256a92" stroke-width="0.8"/>
<rect x="274.25" y="663.75" width="4.50" height="14.75" fill="#4a9ac4" stroke="#256a92" stroke-width="0.8"/>
<rect x="278.75" y="663.25" width="5.00" height="15.25" fill="#4a9ac4" stroke="#256a92" stroke-width="0.8"/>
<rect x="283.75" y="666.25" width="4.50" height="12.25" fill="#4a9ac4" stroke="#256a92" stroke-width="0.8"/>
<rect x="288.25" y="666.75" width="5.00" height="11.75" fill="#4a9ac4" stroke="#256a92" stroke-width="0.8"/>
<rect x="293.25" y="669.50" width="4.75" height="9.00" fill="#4a9ac4" stroke="#256a92" stroke-width="0.8"/>
<rect x="298.00" y="671.25" width="4.50" height="7.25" fill="#4a9ac4" stroke="#256a92" stroke-width="0.8"/>
<rect x="302.50" y="672.50" width="4.50" height="6.00" fill="#4a9ac4" stroke="#256a92" stroke-width="0.8"/>
<rect x="307.00" y="674.50" width="4.75" height="4.00" fill="#4a9ac4" stroke="#256a92" stroke-width="0.8"/>
<rect x="311.75" y="675.00" width="4.50" height="3.50" fill="#4a9ac4" stroke="#256a92" stroke-width="0.8"/>
<rect x="316.25" y="678.25" width="5.00" height="0.80" fill="#4a9ac4" stroke="#256a92" stroke-width="0.8"/>
<rect x="321.25" y="678.50" width="4.50" height="5.25" fill="#4a9ac4" stroke="#256a92" stroke-width="0.8"/>
<rect x="325.75" y="678.50" width="4.75" height="7.75" fill="#4a9ac4" stroke="#256a92" stroke-width="0.8"/>
<rect x="330.50" y="678.50" width="4.50" height="9.50" fill="#4a9ac4" stroke="#256a92" stroke-width="0.8"/>
<rect x="335.00" y="678.50" width="5.00" height="11.00" fill="#4a9ac4" stroke="#256a92" stroke-width="0.8"/>
<rect x="340.00" y="678.50" width="4.50" height="8.50" fill="#4a9ac4" stroke="#256a92" stroke-width="0.8"/>
<rect x="344.50" y="678.50" width="4.75" height="5.25" fill="#4a9ac4" stroke="#256a92" stroke-width="0.8"/>
<rect x="349.25" y="678.50" width="4.50" height="2.75" fill="#4a9ac4" stroke="#256a92" stroke-width="0.8"/>
<rect x="353.75" y="678.50" width="5.00" height="0.75" fill="#4a9ac4" stroke="#256a92" stroke-width="0.8"/>
<rect x="358.75" y="677.50" width="4.50" height="1.00" fill="#4a9ac4" stroke="#256a92" stroke-width="0.8"/>
<rect x="363.25" y="676.75" width="4.75" height="1.75" fill="#4a9ac4" stroke="#256a92" stroke-width="0.8"/>
<rect x="368.00" y="676.50" width="4.50" height="2.00" fill="#4a9ac4" stroke="#256a92" stroke-width="0.8"/>
<rect x="372.50" y="675.25" width="5.00" height="3.25" fill="#4a9ac4" stroke="#256a92" stroke-width="0.8"/>
<rect x="377.50" y="674.25" width="4.50" height="4.25" fill="#4a9ac4" stroke="#256a92" stroke-width="0.8"/>
<rect x="382.00" y="673.75" width="4.75" height="4.75" fill="#4a9ac4" stroke="#256a92" stroke-width="0.8"/>
<rect x="386.75" y="673.00" width="4.50" height="5.50" fill="#4a9ac4" stroke="#256a92" stroke-width="0.8"/>
<rect x="391.25" y="671.75" width="5.00" height="6.75" fill="#4a9ac4" stroke="#256a92" stroke-width="0.8"/>
<rect x="396.25" y="669.50" width="4.75" height="9.00" fill="#4a9ac4" stroke="#256a92" stroke-width="0.8"/>
<rect x="401.00" y="670.00" width="1.50" height="8.50" fill="#4a9ac4" stroke="#256a92" stroke-width="0.8"/>
<rect x="402.50" y="669.50" width="4.50" height="9.00" fill="#4a9ac4" stroke="#256a92" stroke-width="0.8"/>
<rect x="407.00" y="671.25" width="4.75" height="7.25" fill="#4a9ac4" stroke="#256a92" stroke-width="0.8"/>
<rect x="411.75" y="673.75" width="4.50" height="4.75" fill="#4a9ac4" stroke="#256a92" stroke-width="0.8"/>
<rect x="416.25" y="675.75" width="5.00" height="2.75" fill="#4a9ac4" stroke="#256a92" stroke-width="0.8"/>
<rect x="421.25" y="676.75" width="4.50" height="1.75" fill="#4a9ac4" stroke="#256a92" stroke-width="0.8"/>
<rect x="425.75" y="675.75" width="4.75" height="2.75" fill="#4a9ac4" stroke="#256a92" stroke-width="0.8"/>
<rect x="430.50" y="675.75" width="4.50" height="2.75" fill="#4a9ac4" stroke="#256a92" stroke-width="0.8"/>
<rect x="435.00" y="675.75" width="5.00" height="2.75" fill="#4a9ac4" stroke="#256a92" stroke-width="0.8"/>
<rect x="440.00" y="674.50" width="4.50" height="4.00" fill="#4a9ac4" stroke="#256a92" stroke-width="0.8"/>
<rect x="444.50" y="674.50" width="4.75" height="4.00" fill="#4a9ac4" stroke="#256a92" stroke-width="0.8"/>
<rect x="449.25" y="675.00" width="4.50" height="3.50" fill="#4a9ac4" stroke="#256a92" stroke-width="0.8"/>
<rect x="453.75" y="674.50" width="5.00" height="4.00" fill="#4a9ac4" stroke="#256a92" stroke-width="0.8"/>
<rect x="458.75" y="677.50" width="4.50" height="1.00" fill="#4a9ac4" stroke="#256a92" stroke-width="0.8"/>
<rect x="463.25" y="678.50" width="5.00" height="1.50" fill="#4a9ac4" stroke="#256a92" stroke-width="0.8"/>
<rect x="468.25" y="678.50" width="4.75" height="2.25" fill="#4a9ac4" stroke="#256a92" stroke-width="0.8"/>
<rect x="473.00" y="678.50" width="4.50" height="3.00" fill="#4a9ac4" stroke="#256a92" stroke-width="0.8"/>
<rect x="477.50" y="678.50" width="4.50" height="3.00" fill="#4a9ac4" stroke="#256a92" stroke-width="0.8"/>
<rect x="482.00" y="678.50" width="4.75" height="4.00" fill="#4a9ac4" stroke="#256a92" stroke-width="0.8"/>
<rect x="486.75" y="678.50" width="4.50" height="5.25" fill="#4a9ac4" stroke="#256a92" stroke-width="0.8"/>
<rect x="491.25" y="678.50" width="5.00" height="5.25" fill="#4a9ac4" stroke="#256a92" stroke-width="0.8"/>
<rect x="496.25" y="678.50" width="4.50" height="4.50" fill="#4a9ac4" stroke="#256a92" stroke-width="0.8"/>
<rect x="500.75" y="678.50" width="4.75" height="3.50" fill="#4a9ac4" stroke="#256a92" stroke-width="0.8"/>
<rect x="505.50" y="678.50" width="4.50" height="1.50" fill="#4a9ac4" stroke="#256a92" stroke-width="0.8"/>
<rect x="510.00" y="678.50" width="5.00" height="2.75" fill="#4a9ac4" stroke="#256a92" stroke-width="0.8"/>
<rect x="515.00" y="678.50" width="4.50" height="5.25" fill="#4a9ac4" stroke="#256a92" stroke-width="0.8"/>
<rect x="519.50" y="678.50" width="4.75" height="7.00" fill="#4a9ac4" stroke="#256a92" stroke-width="0.8"/>
<rect x="524.25" y="678.50" width="4.50" height="8.25" fill="#4a9ac4" stroke="#256a92" stroke-width="0.8"/>
<rect x="528.75" y="678.50" width="5.00" height="7.00" fill="#4a9ac4" stroke="#256a92" stroke-width="0.8"/>
<rect x="533.75" y="678.50" width="4.50" height="4.00" fill="#4a9ac4" stroke="#256a92" stroke-width="0.8"/>
<rect x="538.25" y="678.50" width="4.75" height="1.00" fill="#4a9ac4" stroke="#256a92" stroke-width="0.8"/>
<rect x="543.00" y="677.50" width="4.50" height="1.00" fill="#4a9ac4" stroke="#256a92" stroke-width="0.8"/>
<rect x="547.50" y="678.00" width="5.00" height="0.80" fill="#4a9ac4" stroke="#256a92" stroke-width="0.8"/>
<rect x="552.50" y="678.50" width="4.50" height="1.50" fill="#4a9ac4" stroke="#256a92" stroke-width="0.8"/>
<rect x="557.00" y="678.50" width="4.75" height="3.50" fill="#4a9ac4" stroke="#256a92" stroke-width="0.8"/>
<rect x="561.75" y="678.50" width="4.50" height="4.75" fill="#4a9ac4" stroke="#256a92" stroke-width="0.8"/>
<rect x="566.25" y="678.50" width="5.00" height="6.00" fill="#4a9ac4" stroke="#256a92" stroke-width="0.8"/>
<rect x="571.25" y="678.50" width="4.50" height="7.00" fill="#4a9ac4" stroke="#256a92" stroke-width="0.8"/>
<rect x="575.75" y="678.50" width="4.75" height="6.50" fill="#4a9ac4" stroke="#256a92" stroke-width="0.8"/>
<rect x="580.50" y="678.50" width="4.50" height="6.00" fill="#4a9ac4" stroke="#256a92" stroke-width="0.8"/>
<rect x="585.00" y="678.50" width="5.00" height="5.25" fill="#4a9ac4" stroke="#256a92" stroke-width="0.8"/>
<rect x="590.00" y="678.50" width="4.50" height="4.75" fill="#4a9ac4" stroke="#256a92" stroke-width="0.8"/>
<rect x="594.50" y="678.50" width="4.75" height="3.50" fill="#4a9ac4" stroke="#256a92" stroke-width="0.8"/>
<rect x="599.25" y="678.50" width="4.50" height="2.75" fill="#4a9ac4" stroke="#256a92" stroke-width="0.8"/>
<rect x="603.75" y="678.50" width="5.00" height="4.00" fill="#4a9ac4" stroke="#256a92" stroke-width="0.8"/>
<rect x="608.75" y="678.50" width="4.50" height="3.00" fill="#4a9ac4" stroke="#256a92" stroke-width="0.8"/>
<rect x="613.25" y="678.50" width="4.75" height="1.00" fill="#4a9ac4" stroke="#256a92" stroke-width="0.8"/>
<rect x="618.00" y="677.50" width="4.50" height="1.00" fill="#4a9ac4" stroke="#256a92" stroke-width="0.8"/>
<rect x="622.50" y="676.75" width="5.00" height="1.75" fill="#4a9ac4" stroke="#256a92" stroke-width="0.8"/>
<rect x="627.50" y="675.50" width="4.50" height="3.00" fill="#4a9ac4" stroke="#256a92" stroke-width="0.8"/>
<rect x="632.00" y="675.25" width="4.75" height="3.25" fill="#4a9ac4" stroke="#256a92" stroke-width="0.8"/>
<rect x="636.75" y="675.50" width="4.50" height="3.00" fill="#4a9ac4" stroke="#256a92" stroke-width="0.8"/>
<rect x="641.25" y="676.50" width="5.00" height="2.00" fill="#4a9ac4" stroke="#256a92" stroke-width="0.8"/>
<rect x="646.25" y="677.50" width="4.50" height="1.00" fill="#4a9ac4" stroke="#256a92" stroke-width="0.8"/>
<rect x="650.75" y="677.50" width="2.25" height="1.00" fill="#4a9ac4" stroke="#256a92" stroke-width="0.8"/>
<polyline points="50.00,655.75 60.00,652.00 70.00,648.75 77.50,647.00 82.50,646.50 87.50,647.00 95.00,649.50 105.00,653.00 115.00,655.00 125.00,655.50 135.00,655.00 145.00,654.00 155.00,653.00 160.00,653.25 165.00,655.00 170.00,658.25 175.00,662.00 180.00,665.50 185.00,669.50 190.00,673.75 195.00,677.50 200.00,681.25 205.00,684.50 210.00,687.50 215.00,691.25 220.00,695.00 224.50,698.50 230.00,706.25 235.00,710.50 240.00,713.75 245.00,715.75 250.00,717.00 255.00,716.75 260.00,715.00 265.00,711.25 270.00,706.25 275.00,702.00 280.00,698.00 285.00,695.00 290.00,692.00 295.00,689.50 300.00,687.50 305.00,685.75 310.00,684.50 315.00,683.75 320.00,683.75 325.00,685.00 330.00,687.50 335.00,690.00 340.00,692.50 345.00,694.00 350.00,694.50 355.00,694.50 360.00,694.00 365.00,693.00 370.00,692.00 375.00,690.75 380.00,689.50 385.00,687.50 390.00,685.50 395.00,683.25 399.50,681.00 405.00,678.75 410.00,676.25 415.00,675.00 420.00,673.75 425.00,673.00 430.00,672.00 435.00,670.50 440.00,669.50 445.00,668.00 450.00,667.00 455.50,665.75 460.75,665.00 465.50,665.50 470.00,666.25 475.00,667.00 480.00,668.00 485.00,668.75 490.00,670.00 495.00,670.75 500.00,671.25 505.00,671.75 510.00,671.75 515.00,672.50 520.00,674.25 525.00,675.75 530.00,677.50 535.00,678.25 540.00,678.25 545.00,678.00 550.00,678.00 555.00,678.25 560.00,678.75 565.00,680.00 570.00,682.50 575.00,684.50 580.00,686.25 585.00,687.50 590.00,688.75 595.00,689.50 600.00,690.00 605.00,690.50 610.00,690.50 615.00,690.00 620.00,689.25 625.00,688.25 630.00,687.00 635.00,686.00 640.00,685.00 645.00,685.00 649.50,685.00" fill="none" stroke="#f01010" stroke-width="1.2"/>
<polyline points="50.00,655.00 55.00,652.00 60.00,648.75 65.00,646.25 70.00,644.50 75.00,643.75 80.00,644.50 85.00,647.00 90.00,650.50 95.00,653.75 100.00,657.00 105.50,658.75 110.50,659.50 115.50,659.25 120.00,658.00 125.00,656.50 130.00,655.00 135.00,653.75 138.75,651.25 143.75,652.50 148.25,653.00 153.00,653.00 157.50,653.25 162.50,658.75 167.50,665.00 172.50,670.50 177.00,673.00 181.25,676.25 186.25,685.50 191.25,691.25 195.75,695.50 200.75,698.75 205.00,702.00 210.00,700.75 215.00,707.50 220.00,713.75 224.50,720.00 228.75,723.75 233.00,727.00 237.50,726.25 242.50,725.50 247.50,722.50 252.50,717.50 257.00,714.50 261.75,705.00 266.25,697.50 271.25,692.50 276.25,687.00 280.50,683.25 285.50,683.25 290.50,680.75 295.00,679.50 299.50,678.25 304.50,679.00 309.50,680.00 313.75,679.50 318.75,683.75 323.25,687.50 328.00,691.25 332.50,696.25 337.50,700.00 342.50,701.25 347.50,698.25 351.25,695.50 356.25,692.50 361.25,691.25 366.25,690.00 370.75,688.75 375.75,685.50 380.50,683.75 385.00,681.25 390.00,678.75 395.00,675.00 399.25,670.75 403.75,668.75 408.00,668.25 412.50,670.00 417.50,670.50 422.50,670.00 427.50,669.00 432.00,668.00 436.75,667.00 441.25,665.00 446.25,664.00 451.25,662.00 455.50,660.00 460.75,663.75 465.50,666.25 470.00,667.50 474.50,668.75 479.50,670.00 484.50,671.25 488.75,672.50 493.75,673.25 498.25,673.25 503.00,673.00 507.50,671.75 512.50,673.00 517.50,678.00 522.50,681.25 526.25,683.75 530.00,684.50 536.25,680.00 540.75,677.50 545.00,676.25 550.00,677.00 555.00,678.00 560.00,679.50 564.50,681.25 569.50,686.25 574.25,688.75 578.75,690.50 583.75,692.00 588.25,691.25 593.00,690.75 597.50,690.00 602.50,690.50 607.50,692.00 612.00,690.75 616.75,689.50 621.75,687.50 626.25,685.00 630.75,684.50 635.50,682.50 640.00,682.50 645.50,684.50 649.50,683.25" fill="none" stroke="#000" stroke-width="2" stroke-linejoin="round"/>
<rect x="49.5" y="28.5" width="607.0" height="201.0" fill="none" stroke="#a8a8a8"/>
<rect x="49.5" y="229.5" width="607.0" height="289.0" fill="none" stroke="#a8a8a8"/>
<rect x="49.5" y="532.5" width="607.0" height="201.0" fill="none" stroke="#a8a8a8"/>
<text x="671.5" y="46.7" text-anchor="end" font-size="10.6" class="ax">90</text>
<text x="671.5" y="64.5" text-anchor="end" font-size="10.6" class="ax">70</text>
<text x="671.5" y="81.6" text-anchor="end" font-size="10.6" class="ax">50</text>
<text x="671.5" y="98.7" text-anchor="end" font-size="10.6" class="ax">30</text>
<text x="671.5" y="116.7" text-anchor="end" font-size="10.6" class="ax">10</text>
<line x1="656.5" y1="45.5" x2="660.5" y2="45.5" stroke="#a8a8a8"/>
<line x1="656.5" y1="62.5" x2="660.5" y2="62.5" stroke="#a8a8a8"/>
<line x1="656.5" y1="79.5" x2="660.5" y2="79.5" stroke="#a8a8a8"/>
<line x1="656.5" y1="96.5" x2="660.5" y2="96.5" stroke="#a8a8a8"/>
<line x1="656.5" y1="113.5" x2="660.5" y2="113.5" stroke="#a8a8a8"/>
<line x1="656.5" y1="37.5" x2="658.5" y2="37.5" stroke="#a8a8a8"/>
<line x1="656.5" y1="54.5" x2="658.5" y2="54.5" stroke="#a8a8a8"/>
<line x1="656.5" y1="71.5" x2="658.5" y2="71.5" stroke="#a8a8a8"/>
<line x1="656.5" y1="88.5" x2="658.5" y2="88.5" stroke="#a8a8a8"/>
<line x1="656.5" y1="105.5" x2="658.5" y2="105.5" stroke="#a8a8a8"/>
<line x1="656.5" y1="122.5" x2="658.5" y2="122.5" stroke="#a8a8a8"/>
<text x="683" y="138.1" text-anchor="end" font-size="10.6" class="ax">30%</text>
<text x="683" y="158.9" text-anchor="end" font-size="10.6" class="ax">20%</text>
<text x="683" y="179.8" text-anchor="end" font-size="10.6" class="ax">10%</text>
<text x="683" y="200.6" text-anchor="end" font-size="10.6" class="ax">0%</text>
<text x="683" y="221.5" text-anchor="end" font-size="10.6" class="ax">-10%</text>
<line x1="656.5" y1="135.5" x2="660.5" y2="135.5" stroke="#a8a8a8"/>
<line x1="656.5" y1="156.5" x2="660.5" y2="156.5" stroke="#a8a8a8"/>
<line x1="656.5" y1="176.5" x2="660.5" y2="176.5" stroke="#a8a8a8"/>
<line x1="656.5" y1="197.5" x2="660.5" y2="197.5" stroke="#a8a8a8"/>
<line x1="656.5" y1="218.5" x2="660.5" y2="218.5" stroke="#a8a8a8"/>
<line x1="656.5" y1="145.5" x2="658.5" y2="145.5" stroke="#a8a8a8"/>
<line x1="656.5" y1="166.5" x2="658.5" y2="166.5" stroke="#a8a8a8"/>
<line x1="656.5" y1="187.5" x2="658.5" y2="187.5" stroke="#a8a8a8"/>
<line x1="656.5" y1="208.5" x2="658.5" y2="208.5" stroke="#a8a8a8"/>
<line x1="656.5" y1="229.5" x2="658.5" y2="229.5" stroke="#a8a8a8"/>
<text x="683" y="515.8" text-anchor="end" font-size="10.6" class="ax">4200</text>
<text x="683" y="500.6" text-anchor="end" font-size="10.6" class="ax">4300</text>
<text x="683" y="485.4" text-anchor="end" font-size="10.6" class="ax">4400</text>
<text x="683" y="470.3" text-anchor="end" font-size="10.6" class="ax">4500</text>
<text x="683" y="455.1" text-anchor="end" font-size="10.6" class="ax">4600</text>
<text x="683" y="439.9" text-anchor="end" font-size="10.6" class="ax">4700</text>
<text x="683" y="424.8" text-anchor="end" font-size="10.6" class="ax">4800</text>
<text x="683" y="409.6" text-anchor="end" font-size="10.6" class="ax">4900</text>
<text x="683" y="394.5" text-anchor="end" font-size="10.6" class="ax">5000</text>
<text x="683" y="379.3" text-anchor="end" font-size="10.6" class="ax">5100</text>
<text x="683" y="364.1" text-anchor="end" font-size="10.6" class="ax">5200</text>
<text x="683" y="349.0" text-anchor="end" font-size="10.6" class="ax">5300</text>
<text x="683" y="333.8" text-anchor="end" font-size="10.6" class="ax">5400</text>
<text x="683" y="318.6" text-anchor="end" font-size="10.6" class="ax">5500</text>
<text x="683" y="303.5" text-anchor="end" font-size="10.6" class="ax">5600</text>
<text x="683" y="288.3" text-anchor="end" font-size="10.6" class="ax">5700</text>
<text x="683" y="273.1" text-anchor="end" font-size="10.6" class="ax">5800</text>
<text x="683" y="258.0" text-anchor="end" font-size="10.6" class="ax">5900</text>
<text x="683" y="242.8" text-anchor="end" font-size="10.6" class="ax">6000</text>
<line x1="656.5" y1="512.5" x2="660.5" y2="512.5" stroke="#a8a8a8"/>
<line x1="656.5" y1="497.5" x2="660.5" y2="497.5" stroke="#a8a8a8"/>
<line x1="656.5" y1="482.5" x2="660.5" y2="482.5" stroke="#a8a8a8"/>
<line x1="656.5" y1="467.5" x2="660.5" y2="467.5" stroke="#a8a8a8"/>
<line x1="656.5" y1="452.5" x2="660.5" y2="452.5" stroke="#a8a8a8"/>
<line x1="656.5" y1="436.5" x2="660.5" y2="436.5" stroke="#a8a8a8"/>
<line x1="656.5" y1="421.5" x2="660.5" y2="421.5" stroke="#a8a8a8"/>
<line x1="656.5" y1="406.5" x2="660.5" y2="406.5" stroke="#a8a8a8"/>
<line x1="656.5" y1="391.5" x2="660.5" y2="391.5" stroke="#a8a8a8"/>
<line x1="656.5" y1="376.5" x2="660.5" y2="376.5" stroke="#a8a8a8"/>
<line x1="656.5" y1="361.5" x2="660.5" y2="361.5" stroke="#a8a8a8"/>
<line x1="656.5" y1="345.5" x2="660.5" y2="345.5" stroke="#a8a8a8"/>
<line x1="656.5" y1="330.5" x2="660.5" y2="330.5" stroke="#a8a8a8"/>
<line x1="656.5" y1="315.5" x2="660.5" y2="315.5" stroke="#a8a8a8"/>
<line x1="656.5" y1="300.5" x2="660.5" y2="300.5" stroke="#a8a8a8"/>
<line x1="656.5" y1="285.5" x2="660.5" y2="285.5" stroke="#a8a8a8"/>
<line x1="656.5" y1="270.5" x2="660.5" y2="270.5" stroke="#a8a8a8"/>
<line x1="656.5" y1="254.5" x2="660.5" y2="254.5" stroke="#a8a8a8"/>
<line x1="656.5" y1="239.5" x2="660.5" y2="239.5" stroke="#a8a8a8"/>
<text x="683" y="543.0" text-anchor="end" font-size="10.6" class="ax">60%</text>
<text x="683" y="561.2" text-anchor="end" font-size="10.6" class="ax">40%</text>
<text x="683" y="579.4" text-anchor="end" font-size="10.6" class="ax">20%</text>
<text x="683" y="597.6" text-anchor="end" font-size="10.6" class="ax">0%</text>
<text x="683" y="615.8" text-anchor="end" font-size="10.6" class="ax">-20%</text>
<text x="683" y="632.1" text-anchor="end" font-size="10.6" class="ax">-40%</text>
<line x1="656.5" y1="540.5" x2="660.5" y2="540.5" stroke="#a8a8a8"/>
<line x1="656.5" y1="558.5" x2="660.5" y2="558.5" stroke="#a8a8a8"/>
<line x1="656.5" y1="576.5" x2="660.5" y2="576.5" stroke="#a8a8a8"/>
<line x1="656.5" y1="594.5" x2="660.5" y2="594.5" stroke="#a8a8a8"/>
<line x1="656.5" y1="612.5" x2="660.5" y2="612.5" stroke="#a8a8a8"/>
<line x1="656.5" y1="631.5" x2="660.5" y2="631.5" stroke="#a8a8a8"/>
<line x1="656.5" y1="549.5" x2="658.5" y2="549.5" stroke="#a8a8a8"/>
<line x1="656.5" y1="567.5" x2="658.5" y2="567.5" stroke="#a8a8a8"/>
<line x1="656.5" y1="585.5" x2="658.5" y2="585.5" stroke="#a8a8a8"/>
<line x1="656.5" y1="603.5" x2="658.5" y2="603.5" stroke="#a8a8a8"/>
<line x1="656.5" y1="622.5" x2="658.5" y2="622.5" stroke="#a8a8a8"/>
<text x="680" y="643.1" text-anchor="end" font-size="10.6" class="ax">200</text>
<text x="680" y="662.1" text-anchor="end" font-size="10.6" class="ax">100</text>
<text x="680" y="681.8" text-anchor="end" font-size="10.6" class="ax">0</text>
<text x="680" y="701.5" text-anchor="end" font-size="10.6" class="ax">-100</text>
<text x="680" y="721.2" text-anchor="end" font-size="10.6" class="ax">-200</text>
<line x1="656.5" y1="639.5" x2="660.5" y2="639.5" stroke="#a8a8a8"/>
<line x1="656.5" y1="659.5" x2="660.5" y2="659.5" stroke="#a8a8a8"/>
<line x1="656.5" y1="678.5" x2="660.5" y2="678.5" stroke="#a8a8a8"/>
<line x1="656.5" y1="698.5" x2="660.5" y2="698.5" stroke="#a8a8a8"/>
<line x1="656.5" y1="718.5" x2="660.5" y2="718.5" stroke="#a8a8a8"/>
<line x1="656.5" y1="649.5" x2="658.5" y2="649.5" stroke="#a8a8a8"/>
<line x1="656.5" y1="669.5" x2="658.5" y2="669.5" stroke="#a8a8a8"/>
<line x1="656.5" y1="688.5" x2="658.5" y2="688.5" stroke="#a8a8a8"/>
<line x1="656.5" y1="708.5" x2="658.5" y2="708.5" stroke="#a8a8a8"/>
<line x1="656.5" y1="728.5" x2="658.5" y2="728.5" stroke="#a8a8a8"/>
<text x="45.8" y="514.4" text-anchor="end" font-size="10.1" class="ax">-125%</text>
<line x1="46.5" y1="511.5" x2="49.5" y2="511.5" stroke="#a8a8a8"/>
<text x="45.8" y="495.2" text-anchor="end" font-size="10.1" class="ax">-100%</text>
<line x1="46.5" y1="492.5" x2="49.5" y2="492.5" stroke="#a8a8a8"/>
<text x="45.8" y="474.0" text-anchor="end" font-size="10.1" class="ax">-75%</text>
<line x1="46.5" y1="470.5" x2="49.5" y2="470.5" stroke="#a8a8a8"/>
<text x="45.8" y="452.8" text-anchor="end" font-size="10.1" class="ax">-50%</text>
<line x1="46.5" y1="449.5" x2="49.5" y2="449.5" stroke="#a8a8a8"/>
<text x="45.8" y="431.6" text-anchor="end" font-size="10.1" class="ax">-25%</text>
<line x1="46.5" y1="428.5" x2="49.5" y2="428.5" stroke="#a8a8a8"/>
<text x="45.8" y="410.4" text-anchor="end" font-size="10.1" class="ax">0%</text>
<line x1="46.5" y1="407.5" x2="49.5" y2="407.5" stroke="#a8a8a8"/>
<text x="45.8" y="389.2" text-anchor="end" font-size="10.1" class="ax">25%</text>
<line x1="46.5" y1="386.5" x2="49.5" y2="386.5" stroke="#a8a8a8"/>
<text x="45.8" y="368.0" text-anchor="end" font-size="10.1" class="ax">50%</text>
<line x1="46.5" y1="364.5" x2="49.5" y2="364.5" stroke="#a8a8a8"/>
<text x="45.8" y="346.8" text-anchor="end" font-size="10.1" class="ax">75%</text>
<line x1="46.5" y1="343.5" x2="49.5" y2="343.5" stroke="#a8a8a8"/>
<text x="45.8" y="325.6" text-anchor="end" font-size="10.1" class="ax">100%</text>
<line x1="46.5" y1="322.5" x2="49.5" y2="322.5" stroke="#a8a8a8"/>
<text x="45.8" y="304.4" text-anchor="end" font-size="10.1" class="ax">125%</text>
<line x1="46.5" y1="301.5" x2="49.5" y2="301.5" stroke="#a8a8a8"/>
<text x="45.8" y="283.2" text-anchor="end" font-size="10.1" class="ax">150%</text>
<line x1="46.5" y1="280.5" x2="49.5" y2="280.5" stroke="#a8a8a8"/>
<text x="45.8" y="262.0" text-anchor="end" font-size="10.1" class="ax">175%</text>
<line x1="46.5" y1="258.5" x2="49.5" y2="258.5" stroke="#a8a8a8"/>
<text x="45.8" y="241.8" text-anchor="end" font-size="10.1" class="ax">200%</text>
<line x1="46.5" y1="238.5" x2="49.5" y2="238.5" stroke="#a8a8a8"/>
<text x="68.0" y="528.8" text-anchor="middle" font-size="10.2" class="ar">17</text>
<text x="86.9" y="528.8" text-anchor="middle" font-size="10.2" class="ar">24</text>
<text x="111.4" y="528.8" text-anchor="middle" font-size="10.7" font-weight="bold" class="ar">Jul</text>
<text x="129.4" y="528.8" text-anchor="middle" font-size="10.2" class="ar">8</text>
<text x="153.0" y="528.8" text-anchor="middle" font-size="10.2" class="ar">15</text>
<text x="176.7" y="528.8" text-anchor="middle" font-size="10.2" class="ar">22</text>
<text x="215.4" y="528.8" text-anchor="middle" font-size="10.7" font-weight="bold" class="ar">Aug</text>
<text x="247.5" y="528.8" text-anchor="middle" font-size="10.2" class="ar">12</text>
<text x="271.2" y="528.8" text-anchor="middle" font-size="10.2" class="ar">19</text>
<text x="294.8" y="528.8" text-anchor="middle" font-size="10.2" class="ar">26</text>
<text x="319.3" y="528.8" text-anchor="middle" font-size="10.7" font-weight="bold" class="ar">Sep</text>
<text x="337.3" y="528.8" text-anchor="middle" font-size="10.2" class="ar">9</text>
<text x="360.9" y="528.8" text-anchor="middle" font-size="10.2" class="ar">16</text>
<text x="384.6" y="528.8" text-anchor="middle" font-size="10.2" class="ar">23</text>
<text x="413.8" y="528.8" text-anchor="middle" font-size="10.7" font-weight="bold" class="ar">Oct</text>
<text x="431.8" y="528.8" text-anchor="middle" font-size="10.2" class="ar">7</text>
<text x="455.4" y="528.8" text-anchor="middle" font-size="10.2" class="ar">14</text>
<text x="479.1" y="528.8" text-anchor="middle" font-size="10.2" class="ar">21</text>
<text x="502.7" y="528.8" text-anchor="middle" font-size="10.2" class="ar">28</text>
<text x="522.5" y="528.8" text-anchor="middle" font-size="10.7" font-weight="bold" class="ar">Nov</text>
<text x="549.9" y="528.8" text-anchor="middle" font-size="10.2" class="ar">11</text>
<text x="573.6" y="528.8" text-anchor="middle" font-size="10.2" class="ar">18</text>
<text x="597.2" y="528.8" text-anchor="middle" font-size="10.2" class="ar">25</text>
<text x="617.0" y="528.8" text-anchor="middle" font-size="10.7" font-weight="bold" class="ar">Dec</text>
<text x="639.7" y="528.8" text-anchor="middle" font-size="10.2" class="ar">9</text>
<text x="68.0" y="744" text-anchor="middle" font-size="10.2" class="ar">17</text>
<text x="86.9" y="744" text-anchor="middle" font-size="10.2" class="ar">24</text>
<text x="111.4" y="744" text-anchor="middle" font-size="10.7" font-weight="bold" class="ar">Jul</text>
<text x="129.4" y="744" text-anchor="middle" font-size="10.2" class="ar">8</text>
<text x="153.0" y="744" text-anchor="middle" font-size="10.2" class="ar">15</text>
<text x="176.7" y="744" text-anchor="middle" font-size="10.2" class="ar">22</text>
<text x="215.4" y="744" text-anchor="middle" font-size="10.7" font-weight="bold" class="ar">Aug</text>
<text x="247.5" y="744" text-anchor="middle" font-size="10.2" class="ar">12</text>
<text x="271.2" y="744" text-anchor="middle" font-size="10.2" class="ar">19</text>
<text x="294.8" y="744" text-anchor="middle" font-size="10.2" class="ar">26</text>
<text x="319.3" y="744" text-anchor="middle" font-size="10.7" font-weight="bold" class="ar">Sep</text>
<text x="337.3" y="744" text-anchor="middle" font-size="10.2" class="ar">9</text>
<text x="360.9" y="744" text-anchor="middle" font-size="10.2" class="ar">16</text>
<text x="384.6" y="744" text-anchor="middle" font-size="10.2" class="ar">23</text>
<text x="413.8" y="744" text-anchor="middle" font-size="10.7" font-weight="bold" class="ar">Oct</text>
<text x="431.8" y="744" text-anchor="middle" font-size="10.2" class="ar">7</text>
<text x="455.4" y="744" text-anchor="middle" font-size="10.2" class="ar">14</text>
<text x="479.1" y="744" text-anchor="middle" font-size="10.2" class="ar">21</text>
<text x="502.7" y="744" text-anchor="middle" font-size="10.2" class="ar">28</text>
<text x="522.5" y="744" text-anchor="middle" font-size="10.7" font-weight="bold" class="ar">Nov</text>
<text x="549.9" y="744" text-anchor="middle" font-size="10.2" class="ar">11</text>
<text x="573.6" y="744" text-anchor="middle" font-size="10.2" class="ar">18</text>
<text x="597.2" y="744" text-anchor="middle" font-size="10.2" class="ar">25</text>
<text x="617.0" y="744" text-anchor="middle" font-size="10.7" font-weight="bold" class="ar">Dec</text>
<text x="639.7" y="744" text-anchor="middle" font-size="10.2" class="ar">9</text>
<path d="M52.5 39 L52.5 34 L55.5 30 L57.5 34 L59.5 31 L61.5 35 L61.5 39 Z" fill="#6c966c" stroke="#2a402a" stroke-width="0.8"/>
<text x="65" y="39.3" font-size="10.3" class="vd" fill="#000" textLength="78.5" lengthAdjust="spacing">RSI(14) 50.25</text>
<path d="M52.5 141 L52.5 136 L55.5 132 L57.5 136 L59.5 133 L61.5 137 L61.5 141 Z" fill="#33339f" stroke="#14148c" stroke-width="0.8"/>
<text x="65" y="141" font-size="10.3" class="vd" fill="#000" textLength="102" lengthAdjust="spacing">$NAA200R 13.74%</text>
<path d="M52.5 544 L52.5 539 L55.5 535 L57.5 539 L59.5 536 L61.5 540 L61.5 544 Z" fill="#d4405c" stroke="#c8143c" stroke-width="0.8"/>
<text x="65" y="544" font-size="10.3" class="vd" fill="#000" textLength="88" lengthAdjust="spacing">$BPNDX 53.19%</text>
<rect x="50" y="634" width="240" height="12.5" fill="#fff"/>
<line x1="52" y1="640.5" x2="60" y2="640.5" stroke="#000" stroke-width="2"/>
<text x="65" y="644.6" font-size="10.3" class="vd" textLength="223.5" lengthAdjust="spacing"><tspan fill="#000">MACD(12,26,9) -19.432</tspan><tspan fill="#f01010">, -28.095</tspan><tspan fill="#3c8cd0">, 8.663</tspan></text>
<rect x="157.5" y="78.4" width="80.3" height="23.7" fill="none" stroke="#0000ff" stroke-width="3.1" stroke-linejoin="round"/>
<rect x="172.5" y="588.5" width="76" height="61.5" fill="none" stroke="#0000ff" stroke-width="3"/>
<rect x="153.5" y="680" width="114.5" height="47.5" fill="none" stroke="#0000ff" stroke-width="3"/>
<line x1="224.3" y1="103" x2="224.3" y2="518.5" stroke="#0000ff" stroke-width="1.3"/>
<line x1="588.4" y1="87" x2="588.4" y2="513.5" stroke="#0000ff" stroke-width="1.3"/>
<text x="152.5" y="121.7" font-size="11.5" font-weight="bold" class="ar" fill="#0000ff" textLength="109.5" lengthAdjust="spacingAndGlyphs">BPSOX of 1 on Aug 2</text>
<text x="506.8" y="115.7" font-size="11.5" font-weight="bold" class="ar" fill="#0000ff" textLength="101" lengthAdjust="spacingAndGlyphs">BPSOX of 8 seems</text>
<text x="506.8" y="128.6" font-size="11.5" font-weight="bold" class="ar" fill="#0000ff" textLength="115" lengthAdjust="spacingAndGlyphs">like as low as we go.</text>
<text x="506.8" y="141.5" font-size="11.5" font-weight="bold" class="ar" fill="#0000ff" textLength="59.5" lengthAdjust="spacingAndGlyphs">Rally time ?</text>
<text x="506.8" y="154.4" font-size="11.5" font-weight="bold" class="ar" fill="#0000ff" textLength="53.5" lengthAdjust="spacingAndGlyphs">I think so.</text>
</svg>
</body></html>
